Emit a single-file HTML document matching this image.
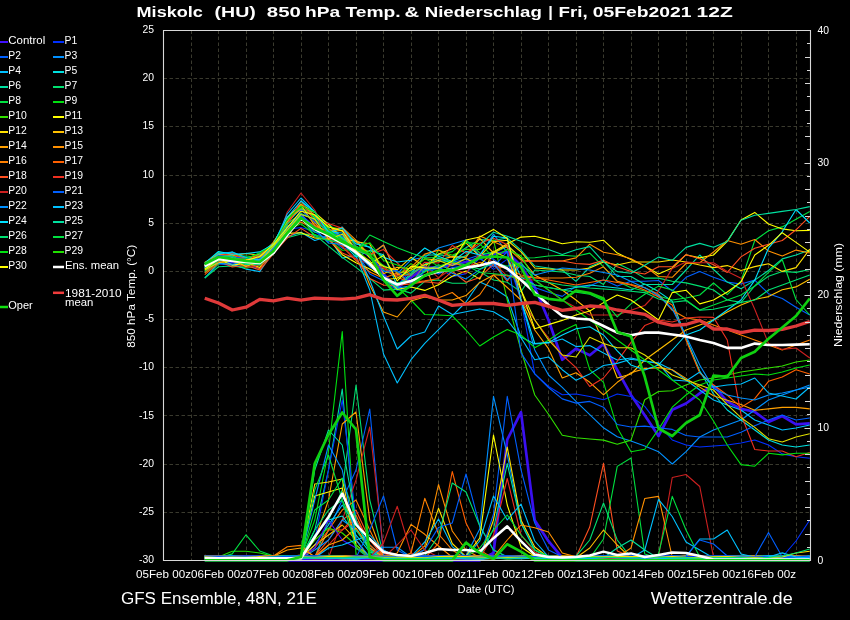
<!DOCTYPE html><html><head><meta charset="utf-8"><style>html,body{margin:0;padding:0;background:#000;width:850px;height:620px;overflow:hidden}svg{display:block;will-change:transform}text{font-family:"Liberation Sans",sans-serif;fill:#fff}</style></head><body>
<svg width="850" height="620" viewBox="0 0 850 620">
<rect width="850" height="620" fill="#000"/>
<path d="M191.5 30.5V560.5M218.5 30.5V560.5M246.5 30.5V560.5M273.5 30.5V560.5M301.5 30.5V560.5M328.5 30.5V560.5M356.5 30.5V560.5M383.5 30.5V560.5M411.5 30.5V560.5M438.5 30.5V560.5M466.5 30.5V560.5M493.5 30.5V560.5M521.5 30.5V560.5M548.5 30.5V560.5M576.5 30.5V560.5M603.5 30.5V560.5M631.5 30.5V560.5M658.5 30.5V560.5M686.5 30.5V560.5M713.5 30.5V560.5M741.5 30.5V560.5M768.5 30.5V560.5M796.5 30.5V560.5M163.5 78.5H810.5M163.5 126.5H810.5M163.5 175.5H810.5M163.5 223.5H810.5M163.5 271.5H810.5M163.5 319.5H810.5M163.5 367.5H810.5M163.5 415.5H810.5M163.5 464.5H810.5M163.5 512.5H810.5" stroke="#3a3a2e" stroke-width="1" stroke-dasharray="3.5 2.5" fill="none"/>
<polyline points="204.75,560.3 218.50,560.3 232.25,560.3 246.00,560.3 259.75,560.3 273.50,560.3 287.25,560.3 301.00,560.3 314.75,560.3 328.50,560.3 342.25,560.3 356.00,560.3 369.75,560.3 383.50,560.3 397.25,560.3 411.00,560.3 424.75,560.3 438.50,560.3 452.25,560.3 466.00,560.3 479.75,560.3 493.50,553.0 507.25,439.7 521.00,412.2 534.75,520.3 548.50,541.2 562.25,557.6 576.00,560.3 589.75,560.3 603.50,560.3 617.25,560.3 631.00,560.3 644.75,560.3 658.50,560.3 672.25,560.3 686.00,560.3 699.75,560.3 713.50,560.3 727.25,560.3 741.00,560.3 754.75,560.3 768.50,560.3 782.25,560.3 796.00,560.3 809.75,560.3" fill="none" stroke="#3a10f0" stroke-width="2.7" stroke-linejoin="round" stroke-linecap="butt"/>
<polyline points="204.75,267.0 218.50,260.0 232.25,262.0 246.00,262.0 259.75,261.0 273.50,250.0 287.25,230.0 301.00,216.0 314.75,227.0 328.50,233.0 342.25,240.0 356.00,247.0 369.75,256.0 383.50,274.2 397.25,288.0 411.00,277.4 424.75,268.0 438.50,267.0 452.25,265.0 466.00,262.0 479.75,258.0 493.50,254.0 507.25,252.0 521.00,266.0 534.75,287.2 548.50,320.0 562.25,359.8 576.00,348.6 589.75,355.3 603.50,344.0 617.25,370.0 631.00,394.9 644.75,415.2 658.50,436.0 672.25,409.8 686.00,403.5 699.75,393.3 713.50,385.7 727.25,401.6 741.00,408.9 754.75,411.8 768.50,422.0 782.25,416.1 796.00,424.3 809.75,423.4" fill="none" stroke="#3a10f0" stroke-width="2.7" stroke-linejoin="round" stroke-linecap="butt"/>
<g><polyline points="204.75,557.3 218.50,557.8 232.25,557.2 246.00,557.3 259.75,557.4 273.50,556.8 287.25,557.3 301.00,557.4 314.75,520.0 328.50,451.0 342.25,331.5 356.00,555.0 369.75,557.7 383.50,557.5 397.25,556.6 411.00,557.9 424.75,557.9 438.50,557.5 452.25,557.4 466.00,556.8 479.75,556.6 493.50,557.3 507.25,556.6 521.00,556.8 534.75,556.9 548.50,556.6 562.25,557.2 576.00,557.2 589.75,557.7 603.50,557.3 617.25,557.4 631.00,557.2 644.75,557.5 658.50,557.2 672.25,556.9 686.00,557.9 699.75,557.9 713.50,557.7 727.25,557.5 741.00,557.0 754.75,556.9 768.50,556.9 782.25,556.6 796.00,557.6 809.75,557.1" fill="none" stroke="#00e010" stroke-width="1.1" stroke-linejoin="round" stroke-linecap="butt"/><polyline points="204.75,558.0 218.50,558.8 232.25,558.6 246.00,557.4 259.75,557.7 273.50,558.7 287.25,558.1 301.00,558.8 314.75,558.0 328.50,520.0 342.25,490.0 356.00,385.0 369.75,500.0 383.50,555.0 397.25,557.9 411.00,558.8 424.75,558.5 438.50,557.6 452.25,557.8 466.00,557.6 479.75,557.5 493.50,558.6 507.25,557.7 521.00,558.2 534.75,558.1 548.50,557.7 562.25,558.5 576.00,557.6 589.75,558.3 603.50,557.6 617.25,558.0 631.00,557.7 644.75,557.8 658.50,558.8 672.25,558.6 686.00,557.9 699.75,558.7 713.50,557.7 727.25,558.0 741.00,558.6 754.75,558.3 768.50,557.6 782.25,558.8 796.00,557.7 809.75,557.8" fill="none" stroke="#00e070" stroke-width="1.1" stroke-linejoin="round" stroke-linecap="butt"/><polyline points="204.75,557.7 218.50,557.7 232.25,557.4 246.00,557.4 259.75,558.1 273.50,557.6 287.25,558.1 301.00,557.8 314.75,530.0 328.50,470.0 342.25,389.0 356.00,540.0 369.75,558.5 383.50,557.5 397.25,557.5 411.00,558.5 424.75,558.4 438.50,557.6 452.25,557.5 466.00,558.3 479.75,558.6 493.50,557.6 507.25,558.6 521.00,558.5 534.75,558.1 548.50,557.9 562.25,557.4 576.00,557.3 589.75,558.6 603.50,557.6 617.25,558.3 631.00,557.6 644.75,558.4 658.50,558.1 672.25,557.7 686.00,557.5 699.75,558.3 713.50,557.4 727.25,557.6 741.00,558.1 754.75,558.5 768.50,558.1 782.25,557.7 796.00,558.6 809.75,557.6" fill="none" stroke="#00e0a0" stroke-width="1.1" stroke-linejoin="round" stroke-linecap="butt"/><polyline points="204.75,555.9 218.50,556.2 232.25,555.6 246.00,555.8 259.75,556.1 273.50,556.3 287.25,555.7 301.00,556.0 314.75,540.0 328.50,470.0 342.25,400.0 356.00,520.0 369.75,550.0 383.50,555.7 397.25,555.6 411.00,555.6 424.75,556.8 438.50,556.5 452.25,556.9 466.00,555.6 479.75,556.4 493.50,556.2 507.25,556.6 521.00,556.0 534.75,556.9 548.50,555.6 562.25,556.3 576.00,556.6 589.75,556.8 603.50,556.6 617.25,556.5 631.00,556.6 644.75,556.8 658.50,556.0 672.25,556.5 686.00,556.8 699.75,556.8 713.50,556.1 727.25,556.6 741.00,556.7 754.75,556.3 768.50,556.4 782.25,556.1 796.00,556.4 809.75,556.4" fill="none" stroke="#0030ff" stroke-width="1.1" stroke-linejoin="round" stroke-linecap="butt"/><polyline points="204.75,556.6 218.50,557.1 232.25,556.9 246.00,556.7 259.75,556.2 273.50,556.7 287.25,556.5 301.00,556.3 314.75,556.9 328.50,530.0 342.25,500.0 356.00,470.0 369.75,409.0 383.50,555.0 397.25,556.0 411.00,556.7 424.75,556.4 438.50,556.5 452.25,557.0 466.00,556.0 479.75,555.7 493.50,556.1 507.25,556.6 521.00,556.0 534.75,555.9 548.50,557.0 562.25,556.6 576.00,556.3 589.75,556.9 603.50,556.1 617.25,556.6 631.00,556.0 644.75,556.3 658.50,556.8 672.25,557.0 686.00,556.9 699.75,556.2 713.50,556.5 727.25,556.1 741.00,555.9 754.75,556.4 768.50,556.9 782.25,556.9 796.00,556.7 809.75,557.0" fill="none" stroke="#0060ff" stroke-width="1.1" stroke-linejoin="round" stroke-linecap="butt"/><polyline points="204.75,556.4 218.50,556.8 232.25,556.5 246.00,556.4 259.75,556.7 273.50,557.0 287.25,556.8 301.00,556.6 314.75,540.0 328.50,500.0 342.25,424.0 356.00,412.0 369.75,520.0 383.50,557.0 397.25,556.2 411.00,557.1 424.75,556.9 438.50,556.6 452.25,557.2 466.00,556.2 479.75,556.3 493.50,556.8 507.25,556.2 521.00,557.3 534.75,556.5 548.50,556.3 562.25,556.2 576.00,557.0 589.75,556.8 603.50,557.0 617.25,557.1 631.00,557.3 644.75,557.5 658.50,557.1 672.25,556.4 686.00,556.8 699.75,556.4 713.50,556.2 727.25,556.8 741.00,557.1 754.75,556.4 768.50,556.5 782.25,556.6 796.00,557.1 809.75,556.9" fill="none" stroke="#ffa000" stroke-width="1.1" stroke-linejoin="round" stroke-linecap="butt"/><polyline points="204.75,558.0 218.50,557.5 232.25,558.0 246.00,558.2 259.75,557.0 273.50,558.2 287.25,557.9 301.00,557.1 314.75,557.5 328.50,557.8 342.25,520.0 356.00,480.0 369.75,427.0 383.50,550.0 397.25,558.0 411.00,558.2 424.75,557.6 438.50,557.8 452.25,557.2 466.00,557.9 479.75,558.1 493.50,557.8 507.25,557.9 521.00,557.2 534.75,558.2 548.50,558.3 562.25,558.3 576.00,557.7 589.75,558.0 603.50,557.4 617.25,558.2 631.00,558.1 644.75,557.4 658.50,557.0 672.25,557.5 686.00,557.7 699.75,558.0 713.50,557.6 727.25,557.0 741.00,558.0 754.75,557.0 768.50,558.0 782.25,557.2 796.00,557.4 809.75,558.0" fill="none" stroke="#cc2020" stroke-width="1.1" stroke-linejoin="round" stroke-linecap="butt"/><polyline points="204.75,556.0 218.50,556.5 232.25,556.8 246.00,557.0 259.75,556.8 273.50,557.1 287.25,556.5 301.00,556.0 314.75,484.0 328.50,482.0 342.25,479.0 356.00,545.0 369.75,557.0 383.50,556.7 397.25,556.6 411.00,557.0 424.75,556.6 438.50,556.3 452.25,556.4 466.00,557.0 479.75,557.1 493.50,556.1 507.25,557.0 521.00,557.2 534.75,556.6 548.50,556.6 562.25,556.1 576.00,556.6 589.75,556.5 603.50,556.7 617.25,555.9 631.00,557.2 644.75,556.5 658.50,556.4 672.25,556.9 686.00,556.6 699.75,556.5 713.50,556.8 727.25,555.9 741.00,556.6 754.75,556.4 768.50,557.2 782.25,557.1 796.00,556.2 809.75,556.5" fill="none" stroke="#ffe000" stroke-width="1.1" stroke-linejoin="round" stroke-linecap="butt"/><polyline points="204.75,556.4 218.50,556.9 232.25,557.1 246.00,556.5 259.75,556.2 273.50,556.1 287.25,556.7 301.00,555.0 314.75,496.0 328.50,492.0 342.25,488.0 356.00,548.0 369.75,556.1 383.50,556.8 397.25,556.2 411.00,556.3 424.75,556.7 438.50,555.9 452.25,556.8 466.00,556.0 479.75,556.5 493.50,556.1 507.25,556.1 521.00,556.5 534.75,556.4 548.50,556.3 562.25,556.4 576.00,556.5 589.75,556.0 603.50,556.1 617.25,556.7 631.00,556.7 644.75,556.5 658.50,557.0 672.25,556.6 686.00,557.0 699.75,556.1 713.50,556.8 727.25,556.9 741.00,557.1 754.75,556.2 768.50,556.2 782.25,557.1 796.00,556.1 809.75,557.2" fill="none" stroke="#ffff00" stroke-width="1.1" stroke-linejoin="round" stroke-linecap="butt"/><polyline points="204.75,557.7 218.50,557.9 232.25,558.6 246.00,557.9 259.75,557.7 273.50,558.7 287.25,558.1 301.00,558.6 314.75,510.0 328.50,500.0 342.25,478.0 356.00,520.0 369.75,550.0 383.50,558.5 397.25,558.8 411.00,558.9 424.75,557.7 438.50,558.2 452.25,558.6 466.00,558.2 479.75,558.5 493.50,557.8 507.25,557.6 521.00,557.7 534.75,557.6 548.50,558.3 562.25,558.3 576.00,558.3 589.75,557.7 603.50,557.8 617.25,557.8 631.00,558.7 644.75,558.9 658.50,558.8 672.25,557.7 686.00,557.6 699.75,558.9 713.50,558.2 727.25,558.6 741.00,558.0 754.75,558.2 768.50,558.3 782.25,558.1 796.00,558.4 809.75,557.6" fill="none" stroke="#00e040" stroke-width="1.1" stroke-linejoin="round" stroke-linecap="butt"/><polyline points="204.75,558.3 218.50,557.4 232.25,557.7 246.00,558.1 259.75,557.7 273.50,557.4 287.25,557.3 301.00,557.8 314.75,557.1 328.50,530.0 342.25,510.0 356.00,500.0 369.75,530.0 383.50,558.0 397.25,557.7 411.00,558.0 424.75,557.8 438.50,558.5 452.25,558.2 466.00,557.5 479.75,558.4 493.50,558.2 507.25,558.2 521.00,558.3 534.75,557.7 548.50,558.4 562.25,558.3 576.00,558.1 589.75,558.2 603.50,558.2 617.25,557.7 631.00,558.1 644.75,557.2 658.50,557.6 672.25,557.8 686.00,557.1 699.75,557.6 713.50,558.0 727.25,558.0 741.00,557.4 754.75,558.4 768.50,558.0 782.25,557.6 796.00,558.0 809.75,557.9" fill="none" stroke="#ff8000" stroke-width="1.1" stroke-linejoin="round" stroke-linecap="butt"/><polyline points="204.75,557.3 218.50,558.1 232.25,557.6 246.00,557.7 259.75,557.8 273.50,558.1 287.25,556.8 301.00,557.6 314.75,545.0 328.50,525.0 342.25,505.0 356.00,525.0 369.75,545.0 383.50,557.3 397.25,556.9 411.00,557.1 424.75,558.0 438.50,557.5 452.25,557.4 466.00,558.1 479.75,557.5 493.50,558.1 507.25,557.6 521.00,557.9 534.75,556.8 548.50,557.6 562.25,557.8 576.00,556.8 589.75,558.0 603.50,556.9 617.25,557.4 631.00,557.0 644.75,557.4 658.50,557.6 672.25,556.8 686.00,558.0 699.75,557.3 713.50,557.5 727.25,557.6 741.00,557.2 754.75,557.1 768.50,557.6 782.25,557.5 796.00,557.1 809.75,557.7" fill="none" stroke="#00c0ff" stroke-width="1.1" stroke-linejoin="round" stroke-linecap="butt"/><polyline points="204.75,556.2 218.50,556.5 232.25,556.2 246.00,556.4 259.75,557.2 273.50,556.7 287.25,557.4 301.00,557.2 314.75,556.3 328.50,540.0 342.25,520.0 356.00,510.0 369.75,540.0 383.50,556.8 397.25,556.8 411.00,557.5 424.75,556.5 438.50,556.9 452.25,557.5 466.00,557.2 479.75,556.8 493.50,557.6 507.25,557.3 521.00,557.0 534.75,556.3 548.50,557.1 562.25,556.8 576.00,556.5 589.75,556.3 603.50,556.9 617.25,556.4 631.00,556.8 644.75,557.1 658.50,556.8 672.25,556.5 686.00,557.0 699.75,556.8 713.50,557.3 727.25,556.9 741.00,557.6 754.75,557.5 768.50,557.2 782.25,556.5 796.00,556.3 809.75,557.4" fill="none" stroke="#ff5020" stroke-width="1.1" stroke-linejoin="round" stroke-linecap="butt"/><polyline points="204.75,558.2 218.50,557.8 232.25,557.7 246.00,558.3 259.75,558.1 273.50,558.1 287.25,558.2 301.00,558.4 314.75,550.0 328.50,540.0 342.25,520.0 356.00,530.0 369.75,548.0 383.50,557.4 397.25,557.4 411.00,557.7 424.75,557.9 438.50,558.2 452.25,557.4 466.00,558.1 479.75,557.4 493.50,557.4 507.25,558.3 521.00,558.1 534.75,558.2 548.50,557.8 562.25,558.0 576.00,557.6 589.75,557.8 603.50,558.3 617.25,558.5 631.00,557.4 644.75,557.5 658.50,558.4 672.25,558.2 686.00,558.4 699.75,557.6 713.50,557.9 727.25,557.7 741.00,558.4 754.75,557.8 768.50,558.2 782.25,558.7 796.00,557.8 809.75,558.1" fill="none" stroke="#0090ff" stroke-width="1.1" stroke-linejoin="round" stroke-linecap="butt"/><polyline points="204.75,558.5 218.50,557.8 232.25,557.7 246.00,557.4 259.75,558.4 273.50,557.3 287.25,557.3 301.00,558.0 314.75,535.0 328.50,520.0 342.25,516.0 356.00,535.0 369.75,552.0 383.50,557.5 397.25,558.1 411.00,557.3 424.75,557.6 438.50,558.2 452.25,558.2 466.00,557.6 479.75,557.4 493.50,557.7 507.25,558.2 521.00,557.7 534.75,557.4 548.50,558.2 562.25,558.0 576.00,558.5 589.75,558.5 603.50,558.5 617.25,557.8 631.00,558.3 644.75,557.6 658.50,557.7 672.25,557.8 686.00,558.5 699.75,558.5 713.50,557.6 727.25,557.7 741.00,557.7 754.75,557.7 768.50,557.8 782.25,557.8 796.00,557.5 809.75,558.0" fill="none" stroke="#00e0e0" stroke-width="1.1" stroke-linejoin="round" stroke-linecap="butt"/><polyline points="204.75,558.1 218.50,558.5 232.25,558.1 246.00,557.6 259.75,558.4 273.50,558.6 287.25,557.7 301.00,557.4 314.75,545.0 328.50,535.0 342.25,525.0 356.00,540.0 369.75,558.2 383.50,558.5 397.25,557.4 411.00,558.1 424.75,558.4 438.50,557.5 452.25,557.4 466.00,558.4 479.75,558.6 493.50,557.5 507.25,558.2 521.00,557.5 534.75,558.4 548.50,558.2 562.25,557.7 576.00,557.6 589.75,558.4 603.50,558.1 617.25,558.4 631.00,557.9 644.75,557.8 658.50,558.7 672.25,558.3 686.00,558.0 699.75,558.1 713.50,558.3 727.25,558.3 741.00,558.6 754.75,557.9 768.50,558.5 782.25,558.3 796.00,558.5 809.75,558.5" fill="none" stroke="#ffc000" stroke-width="1.1" stroke-linejoin="round" stroke-linecap="butt"/><polyline points="204.75,558.7 218.50,558.8 232.25,558.3 246.00,558.2 259.75,558.4 273.50,558.5 287.25,558.0 301.00,558.0 314.75,548.0 328.50,530.0 342.25,530.0 356.00,515.0 369.75,545.0 383.50,557.7 397.25,558.0 411.00,557.8 424.75,558.8 438.50,557.5 452.25,557.8 466.00,557.6 479.75,558.3 493.50,558.5 507.25,557.7 521.00,557.5 534.75,558.1 548.50,558.2 562.25,558.7 576.00,557.5 589.75,557.6 603.50,557.7 617.25,557.7 631.00,557.7 644.75,558.4 658.50,558.3 672.25,557.7 686.00,557.7 699.75,557.8 713.50,557.7 727.25,558.5 741.00,557.9 754.75,558.2 768.50,558.6 782.25,558.1 796.00,557.8 809.75,558.7" fill="none" stroke="#ff6000" stroke-width="1.1" stroke-linejoin="round" stroke-linecap="butt"/><polyline points="204.75,558.1 218.50,558.4 232.25,558.9 246.00,558.3 259.75,557.9 273.50,557.7 287.25,558.9 301.00,558.7 314.75,530.0 328.50,510.0 342.25,500.0 356.00,530.0 369.75,550.0 383.50,558.5 397.25,557.9 411.00,557.6 424.75,558.3 438.50,558.1 452.25,558.7 466.00,558.6 479.75,558.5 493.50,557.8 507.25,557.8 521.00,558.1 534.75,558.0 548.50,558.8 562.25,558.3 576.00,558.5 589.75,559.0 603.50,558.0 617.25,558.4 631.00,557.8 644.75,558.7 658.50,557.6 672.25,558.8 686.00,558.8 699.75,558.8 713.50,557.7 727.25,558.0 741.00,558.6 754.75,557.7 768.50,558.3 782.25,558.3 796.00,558.9 809.75,558.4" fill="none" stroke="#00e070" stroke-width="1.1" stroke-linejoin="round" stroke-linecap="butt"/><polyline points="204.75,557.9 218.50,558.6 232.25,558.1 246.00,558.8 259.75,557.6 273.50,558.6 287.25,557.8 301.00,558.2 314.75,540.0 328.50,528.0 342.25,533.0 356.00,545.0 369.75,557.9 383.50,557.6 397.25,557.9 411.00,558.1 424.75,558.5 438.50,558.0 452.25,558.4 466.00,557.6 479.75,558.0 493.50,558.1 507.25,558.8 521.00,558.6 534.75,558.4 548.50,557.5 562.25,558.0 576.00,558.5 589.75,557.8 603.50,558.3 617.25,558.1 631.00,557.5 644.75,558.9 658.50,558.6 672.25,557.8 686.00,558.3 699.75,557.9 713.50,558.0 727.25,558.2 741.00,557.9 754.75,557.9 768.50,558.0 782.25,558.4 796.00,557.8 809.75,557.8" fill="none" stroke="#30e000" stroke-width="1.1" stroke-linejoin="round" stroke-linecap="butt"/><polyline points="204.75,557.6 218.50,558.5 232.25,558.0 246.00,558.2 259.75,557.6 273.50,558.3 287.25,557.3 301.00,557.4 314.75,548.0 328.50,520.0 342.25,540.0 356.00,548.0 369.75,557.7 383.50,558.4 397.25,558.0 411.00,557.3 424.75,557.5 438.50,557.4 452.25,557.4 466.00,557.8 479.75,557.3 493.50,558.5 507.25,557.8 521.00,557.9 534.75,558.1 548.50,558.3 562.25,558.3 576.00,557.7 589.75,557.6 603.50,557.8 617.25,557.2 631.00,557.7 644.75,558.2 658.50,558.6 672.25,558.3 686.00,558.1 699.75,558.0 713.50,557.2 727.25,557.6 741.00,557.7 754.75,558.1 768.50,557.3 782.25,557.7 796.00,557.9 809.75,558.3" fill="none" stroke="#4010ff" stroke-width="1.1" stroke-linejoin="round" stroke-linecap="butt"/><polyline points="204.75,558.3 218.50,557.6 232.25,558.5 246.00,558.7 259.75,558.2 273.50,557.9 287.25,558.1 301.00,557.6 314.75,558.4 328.50,545.0 342.25,530.0 356.00,520.0 369.75,540.0 383.50,553.0 397.25,558.7 411.00,558.3 424.75,557.7 438.50,557.5 452.25,557.7 466.00,558.2 479.75,558.4 493.50,557.9 507.25,558.7 521.00,557.9 534.75,558.0 548.50,557.6 562.25,558.8 576.00,557.6 589.75,558.7 603.50,558.2 617.25,558.2 631.00,558.2 644.75,557.8 658.50,558.7 672.25,558.8 686.00,558.5 699.75,558.2 713.50,557.6 727.25,558.6 741.00,557.8 754.75,558.7 768.50,557.7 782.25,558.2 796.00,558.6 809.75,557.7" fill="none" stroke="#ee3020" stroke-width="1.1" stroke-linejoin="round" stroke-linecap="butt"/><polyline points="204.75,556.9 218.50,556.8 232.25,557.0 246.00,558.1 259.75,558.1 273.50,557.7 287.25,557.2 301.00,557.7 314.75,557.8 328.50,548.0 342.25,545.0 356.00,540.0 369.75,535.0 383.50,550.0 397.25,557.4 411.00,557.0 424.75,557.3 438.50,557.6 452.25,557.0 466.00,557.5 479.75,557.1 493.50,557.6 507.25,557.2 521.00,557.7 534.75,556.8 548.50,557.7 562.25,557.0 576.00,558.1 589.75,557.6 603.50,557.4 617.25,557.3 631.00,557.6 644.75,557.7 658.50,557.8 672.25,557.8 686.00,557.4 699.75,558.2 713.50,557.9 727.25,558.0 741.00,557.3 754.75,557.4 768.50,557.6 782.25,558.0 796.00,557.5 809.75,557.5" fill="none" stroke="#00c0ff" stroke-width="1.1" stroke-linejoin="round" stroke-linecap="butt"/><polyline points="204.75,557.8 218.50,556.9 232.25,556.6 246.00,557.5 259.75,557.8 273.50,557.5 287.25,557.3 301.00,557.5 314.75,556.9 328.50,545.0 342.25,540.0 356.00,528.0 369.75,548.0 383.50,557.2 397.25,557.0 411.00,556.6 424.75,557.5 438.50,557.2 452.25,556.8 466.00,556.9 479.75,557.0 493.50,556.8 507.25,556.6 521.00,557.8 534.75,557.8 548.50,557.4 562.25,557.7 576.00,557.1 589.75,557.6 603.50,556.8 617.25,557.5 631.00,557.3 644.75,557.8 658.50,556.6 672.25,557.6 686.00,556.7 699.75,557.2 713.50,557.8 727.25,556.5 741.00,556.8 754.75,556.9 768.50,556.9 782.25,556.6 796.00,557.7 809.75,557.6" fill="none" stroke="#ffa000" stroke-width="1.1" stroke-linejoin="round" stroke-linecap="butt"/><polyline points="204.75,556.9 218.50,557.2 232.25,556.5 246.00,556.5 259.75,557.7 273.50,556.8 287.25,557.1 301.00,557.7 314.75,470.0 328.50,430.0 342.25,445.0 356.00,520.0 369.75,552.0 383.50,557.7 397.25,556.7 411.00,557.6 424.75,556.9 438.50,557.1 452.25,556.7 466.00,557.6 479.75,557.8 493.50,556.7 507.25,557.3 521.00,556.7 534.75,557.6 548.50,556.5 562.25,556.6 576.00,557.4 589.75,556.9 603.50,557.7 617.25,557.6 631.00,557.4 644.75,556.6 658.50,557.4 672.25,557.7 686.00,557.0 699.75,556.5 713.50,556.7 727.25,556.8 741.00,557.4 754.75,556.7 768.50,556.7 782.25,556.7 796.00,557.3 809.75,557.5" fill="none" stroke="#00e0a0" stroke-width="1.1" stroke-linejoin="round" stroke-linecap="butt"/><polyline points="204.75,557.3 218.50,557.6 232.25,557.2 246.00,556.7 259.75,556.8 273.50,557.7 287.25,557.3 301.00,556.7 314.75,500.0 328.50,445.0 342.25,470.0 356.00,540.0 369.75,557.1 383.50,557.1 397.25,556.4 411.00,557.2 424.75,556.8 438.50,556.7 452.25,557.5 466.00,556.5 479.75,556.8 493.50,557.4 507.25,556.7 521.00,556.7 534.75,557.1 548.50,556.6 562.25,557.6 576.00,557.7 589.75,556.4 603.50,557.0 617.25,557.4 631.00,556.9 644.75,557.7 658.50,557.1 672.25,556.6 686.00,557.1 699.75,557.3 713.50,556.9 727.25,557.3 741.00,557.5 754.75,557.1 768.50,557.1 782.25,557.5 796.00,557.3 809.75,557.1" fill="none" stroke="#0090ff" stroke-width="1.1" stroke-linejoin="round" stroke-linecap="butt"/><polyline points="204.75,557.9 218.50,558.8 232.25,557.9 246.00,558.5 259.75,558.0 273.50,558.3 287.25,558.8 301.00,558.8 314.75,490.0 328.50,455.0 342.25,500.0 356.00,548.0 369.75,558.5 383.50,558.4 397.25,557.7 411.00,558.5 424.75,558.7 438.50,558.5 452.25,558.9 466.00,557.9 479.75,557.9 493.50,557.7 507.25,558.4 521.00,558.3 534.75,558.3 548.50,558.1 562.25,558.8 576.00,557.8 589.75,559.0 603.50,558.5 617.25,558.4 631.00,558.8 644.75,558.0 658.50,557.9 672.25,558.1 686.00,557.7 699.75,558.1 713.50,558.6 727.25,558.4 741.00,558.1 754.75,558.5 768.50,557.8 782.25,558.8 796.00,557.9 809.75,558.0" fill="none" stroke="#00e040" stroke-width="1.1" stroke-linejoin="round" stroke-linecap="butt"/><polyline points="204.75,556.8 218.50,557.0 232.25,551.3 246.00,551.3 259.75,553.0 273.50,556.4 287.25,556.2 301.00,557.2 314.75,555.9 328.50,556.6 342.25,556.9 356.00,557.2 369.75,556.1 383.50,556.5 397.25,556.9 411.00,555.9 424.75,556.2 438.50,557.1 452.25,556.1 466.00,556.4 479.75,556.3 493.50,556.5 507.25,556.0 521.00,555.9 534.75,557.3 548.50,556.9 562.25,556.9 576.00,556.2 589.75,556.2 603.50,556.6 617.25,556.2 631.00,556.5 644.75,557.2 658.50,556.4 672.25,556.3 686.00,557.2 699.75,556.7 713.50,555.9 727.25,556.4 741.00,556.8 754.75,555.9 768.50,556.3 782.25,556.8 796.00,557.1 809.75,556.7" fill="none" stroke="#20e000" stroke-width="1.1" stroke-linejoin="round" stroke-linecap="butt"/><polyline points="204.75,558.2 218.50,558.1 232.25,553.9 246.00,534.8 259.75,551.0 273.50,556.0 287.25,558.0 301.00,557.8 314.75,558.3 328.50,557.8 342.25,557.8 356.00,557.8 369.75,558.2 383.50,558.0 397.25,558.2 411.00,558.9 424.75,558.5 438.50,558.7 452.25,557.8 466.00,558.1 479.75,557.6 493.50,558.5 507.25,558.0 521.00,557.9 534.75,557.6 548.50,557.8 562.25,557.9 576.00,558.1 589.75,558.8 603.50,558.5 617.25,557.9 631.00,558.0 644.75,557.8 658.50,558.8 672.25,558.0 686.00,558.6 699.75,558.6 713.50,558.8 727.25,557.6 741.00,558.0 754.75,558.1 768.50,557.7 782.25,558.8 796.00,558.0 809.75,558.6" fill="none" stroke="#00e040" stroke-width="1.1" stroke-linejoin="round" stroke-linecap="butt"/><polyline points="204.75,555.3 218.50,557.2 232.25,557.0 246.00,556.8 259.75,556.9 273.50,556.0 287.25,546.8 301.00,545.4 314.75,557.3 328.50,557.5 342.25,556.9 356.00,557.7 369.75,557.1 383.50,557.7 397.25,557.6 411.00,556.9 424.75,557.0 438.50,557.1 452.25,557.7 466.00,557.3 479.75,557.2 493.50,557.9 507.25,557.0 521.00,557.1 534.75,557.2 548.50,557.0 562.25,556.8 576.00,556.7 589.75,557.6 603.50,557.5 617.25,557.8 631.00,558.1 644.75,557.1 658.50,557.6 672.25,558.0 686.00,557.0 699.75,557.7 713.50,557.6 727.25,558.0 741.00,557.9 754.75,557.0 768.50,557.6 782.25,556.8 796.00,557.3 809.75,557.2" fill="none" stroke="#ff8000" stroke-width="1.1" stroke-linejoin="round" stroke-linecap="butt"/><polyline points="204.75,556.2 218.50,556.1 232.25,556.3 246.00,556.0 259.75,555.9 273.50,556.2 287.25,550.0 301.00,548.0 314.75,556.6 328.50,556.0 342.25,555.8 356.00,556.1 369.75,556.2 383.50,555.8 397.25,556.5 411.00,556.6 424.75,556.4 438.50,556.6 452.25,555.7 466.00,556.2 479.75,556.1 493.50,555.7 507.25,556.2 521.00,555.7 534.75,556.3 548.50,556.5 562.25,556.3 576.00,556.1 589.75,556.0 603.50,555.7 617.25,556.1 631.00,556.9 644.75,556.4 658.50,556.0 672.25,556.6 686.00,555.9 699.75,556.3 713.50,556.5 727.25,557.0 741.00,556.1 754.75,556.4 768.50,557.0 782.25,556.7 796.00,556.5 809.75,556.5" fill="none" stroke="#ffa000" stroke-width="1.1" stroke-linejoin="round" stroke-linecap="butt"/><polyline points="204.75,557.0 218.50,556.8 232.25,557.6 246.00,557.7 259.75,557.0 273.50,557.7 287.25,556.5 301.00,556.6 314.75,557.2 328.50,556.9 342.25,556.9 356.00,557.8 369.75,530.0 383.50,496.0 397.25,550.0 411.00,557.4 424.75,556.8 438.50,556.4 452.25,557.2 466.00,557.0 479.75,556.8 493.50,557.1 507.25,557.4 521.00,557.2 534.75,557.3 548.50,557.2 562.25,557.6 576.00,557.8 589.75,556.9 603.50,556.9 617.25,557.7 631.00,556.9 644.75,557.4 658.50,557.4 672.25,557.4 686.00,557.8 699.75,557.6 713.50,556.7 727.25,557.3 741.00,557.1 754.75,557.2 768.50,557.0 782.25,556.8 796.00,557.5 809.75,557.2" fill="none" stroke="#0060ff" stroke-width="1.1" stroke-linejoin="round" stroke-linecap="butt"/><polyline points="204.75,556.4 218.50,556.5 232.25,556.3 246.00,556.8 259.75,556.2 273.50,556.1 287.25,556.1 301.00,556.2 314.75,557.0 328.50,556.2 342.25,556.7 356.00,557.1 369.75,556.7 383.50,547.3 397.25,547.3 411.00,557.3 424.75,556.1 438.50,556.4 452.25,556.8 466.00,557.2 479.75,556.6 493.50,557.0 507.25,556.4 521.00,557.0 534.75,556.5 548.50,556.5 562.25,557.1 576.00,557.2 589.75,557.2 603.50,556.8 617.25,556.6 631.00,557.0 644.75,556.9 658.50,557.2 672.25,557.2 686.00,556.2 699.75,556.6 713.50,557.0 727.25,556.4 741.00,556.3 754.75,556.1 768.50,556.9 782.25,557.4 796.00,557.4 809.75,556.2" fill="none" stroke="#0090ff" stroke-width="1.1" stroke-linejoin="round" stroke-linecap="butt"/><polyline points="204.75,557.7 218.50,558.0 232.25,557.6 246.00,558.4 259.75,558.5 273.50,557.1 287.25,558.1 301.00,557.2 314.75,557.1 328.50,557.5 342.25,558.1 356.00,558.5 369.75,557.2 383.50,543.0 397.25,506.3 411.00,553.0 424.75,557.8 438.50,557.6 452.25,557.5 466.00,558.2 479.75,558.3 493.50,557.5 507.25,557.6 521.00,557.9 534.75,558.2 548.50,558.5 562.25,557.6 576.00,558.1 589.75,557.8 603.50,558.2 617.25,557.3 631.00,557.3 644.75,557.2 658.50,558.4 672.25,557.4 686.00,557.8 699.75,557.2 713.50,557.5 727.25,557.1 741.00,557.9 754.75,557.3 768.50,558.0 782.25,557.5 796.00,557.4 809.75,557.8" fill="none" stroke="#cc2020" stroke-width="1.1" stroke-linejoin="round" stroke-linecap="butt"/><polyline points="204.75,556.7 218.50,556.4 232.25,556.4 246.00,557.6 259.75,556.8 273.50,556.5 287.25,556.6 301.00,557.0 314.75,557.7 328.50,556.6 342.25,557.6 356.00,557.0 369.75,556.9 383.50,557.5 397.25,553.0 411.00,524.4 424.75,534.3 438.50,546.0 452.25,557.2 466.00,556.7 479.75,557.7 493.50,557.6 507.25,557.7 521.00,557.0 534.75,557.5 548.50,557.4 562.25,556.6 576.00,556.4 589.75,556.6 603.50,556.5 617.25,556.4 631.00,556.8 644.75,557.4 658.50,556.8 672.25,557.1 686.00,556.4 699.75,556.6 713.50,557.7 727.25,556.4 741.00,557.1 754.75,557.5 768.50,557.5 782.25,557.4 796.00,556.9 809.75,557.5" fill="none" stroke="#ff9000" stroke-width="1.1" stroke-linejoin="round" stroke-linecap="butt"/><polyline points="204.75,558.5 218.50,558.8 232.25,557.5 246.00,558.7 259.75,558.0 273.50,558.4 287.25,557.8 301.00,558.7 314.75,557.4 328.50,558.2 342.25,557.7 356.00,557.9 369.75,557.9 383.50,558.3 397.25,558.5 411.00,553.0 424.75,498.3 438.50,534.0 452.25,550.0 466.00,558.7 479.75,557.9 493.50,557.5 507.25,557.9 521.00,558.4 534.75,557.7 548.50,558.4 562.25,558.2 576.00,558.4 589.75,557.7 603.50,557.6 617.25,557.6 631.00,557.9 644.75,558.0 658.50,557.4 672.25,558.1 686.00,558.0 699.75,557.9 713.50,558.2 727.25,558.7 741.00,557.7 754.75,558.6 768.50,557.9 782.25,558.5 796.00,557.6 809.75,558.8" fill="none" stroke="#ff8000" stroke-width="1.1" stroke-linejoin="round" stroke-linecap="butt"/><polyline points="204.75,557.8 218.50,556.8 232.25,557.1 246.00,557.5 259.75,556.7 273.50,556.9 287.25,557.4 301.00,557.8 314.75,556.9 328.50,556.7 342.25,557.0 356.00,557.9 369.75,556.7 383.50,557.4 397.25,557.0 411.00,557.4 424.75,546.0 438.50,484.5 452.25,531.0 466.00,550.0 479.75,557.4 493.50,557.2 507.25,557.3 521.00,556.6 534.75,557.7 548.50,557.5 562.25,557.1 576.00,557.4 589.75,557.1 603.50,557.0 617.25,556.8 631.00,557.3 644.75,557.3 658.50,557.2 672.25,556.5 686.00,557.4 699.75,557.1 713.50,557.3 727.25,557.3 741.00,557.8 754.75,556.7 768.50,557.1 782.25,557.9 796.00,557.5 809.75,556.9" fill="none" stroke="#ff9000" stroke-width="1.1" stroke-linejoin="round" stroke-linecap="butt"/><polyline points="204.75,558.6 218.50,557.8 232.25,558.4 246.00,557.4 259.75,558.6 273.50,557.9 287.25,557.5 301.00,558.4 314.75,558.1 328.50,558.5 342.25,558.4 356.00,558.3 369.75,557.9 383.50,558.6 397.25,557.3 411.00,558.4 424.75,558.2 438.50,543.5 452.25,471.5 466.00,523.0 479.75,550.0 493.50,558.4 507.25,557.5 521.00,557.6 534.75,558.1 548.50,557.3 562.25,558.0 576.00,558.3 589.75,557.9 603.50,557.5 617.25,558.3 631.00,558.4 644.75,558.3 658.50,558.0 672.25,558.5 686.00,558.3 699.75,557.4 713.50,557.7 727.25,557.3 741.00,557.2 754.75,557.7 768.50,558.4 782.25,558.4 796.00,557.4 809.75,557.4" fill="none" stroke="#ff6000" stroke-width="1.1" stroke-linejoin="round" stroke-linecap="butt"/><polyline points="204.75,557.6 218.50,557.3 232.25,557.7 246.00,556.5 259.75,557.8 273.50,556.7 287.25,557.3 301.00,557.6 314.75,557.4 328.50,556.7 342.25,557.3 356.00,557.0 369.75,556.4 383.50,556.9 397.25,556.8 411.00,557.3 424.75,549.6 438.50,508.3 452.25,543.5 466.00,556.6 479.75,556.6 493.50,557.4 507.25,557.0 521.00,556.6 534.75,556.6 548.50,557.7 562.25,557.2 576.00,556.9 589.75,556.7 603.50,557.8 617.25,557.4 631.00,557.4 644.75,556.9 658.50,556.8 672.25,557.0 686.00,556.6 699.75,557.3 713.50,557.0 727.25,557.5 741.00,557.0 754.75,557.0 768.50,557.1 782.25,557.7 796.00,556.9 809.75,557.4" fill="none" stroke="#ffe000" stroke-width="1.1" stroke-linejoin="round" stroke-linecap="butt"/><polyline points="204.75,556.9 218.50,556.4 232.25,557.3 246.00,556.4 259.75,557.2 273.50,557.0 287.25,556.7 301.00,557.3 314.75,556.6 328.50,557.1 342.25,556.9 356.00,556.7 369.75,556.1 383.50,556.6 397.25,556.4 411.00,556.7 424.75,542.0 438.50,519.0 452.25,546.6 466.00,557.0 479.75,556.4 493.50,556.6 507.25,556.2 521.00,557.3 534.75,556.4 548.50,556.6 562.25,556.5 576.00,557.2 589.75,557.2 603.50,556.9 617.25,556.8 631.00,556.2 644.75,557.3 658.50,556.2 672.25,556.5 686.00,556.6 699.75,557.1 713.50,557.0 727.25,556.5 741.00,557.3 754.75,557.4 768.50,556.1 782.25,556.9 796.00,556.7 809.75,556.5" fill="none" stroke="#00c0ff" stroke-width="1.1" stroke-linejoin="round" stroke-linecap="butt"/><polyline points="204.75,557.0 218.50,557.5 232.25,557.4 246.00,557.9 259.75,557.9 273.50,558.0 287.25,557.1 301.00,557.7 314.75,557.5 328.50,557.6 342.25,558.0 356.00,556.7 369.75,557.2 383.50,557.1 397.25,557.5 411.00,556.9 424.75,549.6 438.50,527.4 452.25,523.0 466.00,474.0 479.75,526.0 493.50,550.0 507.25,556.7 521.00,556.8 534.75,557.5 548.50,557.4 562.25,557.6 576.00,556.9 589.75,557.7 603.50,557.6 617.25,557.7 631.00,556.7 644.75,557.2 658.50,556.6 672.25,557.8 686.00,557.9 699.75,557.8 713.50,556.6 727.25,557.1 741.00,557.3 754.75,557.3 768.50,556.7 782.25,557.7 796.00,557.0 809.75,557.3" fill="none" stroke="#0060ff" stroke-width="1.1" stroke-linejoin="round" stroke-linecap="butt"/><polyline points="204.75,556.6 218.50,556.0 232.25,555.9 246.00,556.5 259.75,556.2 273.50,556.9 287.25,556.1 301.00,556.4 314.75,555.9 328.50,556.1 342.25,556.4 356.00,556.6 369.75,556.4 383.50,557.0 397.25,555.9 411.00,557.0 424.75,556.0 438.50,536.0 452.25,483.0 466.00,492.0 479.75,526.0 493.50,550.0 507.25,557.1 521.00,556.4 534.75,555.8 548.50,556.0 562.25,556.9 576.00,556.8 589.75,556.8 603.50,556.0 617.25,556.5 631.00,555.8 644.75,555.9 658.50,556.2 672.25,557.1 686.00,556.7 699.75,557.0 713.50,555.9 727.25,556.4 741.00,555.9 754.75,556.2 768.50,555.9 782.25,557.1 796.00,556.2 809.75,556.5" fill="none" stroke="#00e070" stroke-width="1.1" stroke-linejoin="round" stroke-linecap="butt"/><polyline points="204.75,558.2 218.50,558.3 232.25,557.8 246.00,557.7 259.75,558.3 273.50,557.6 287.25,557.4 301.00,558.0 314.75,557.4 328.50,557.5 342.25,557.6 356.00,557.7 369.75,557.5 383.50,557.6 397.25,545.0 411.00,530.0 424.75,550.0 438.50,557.1 452.25,557.7 466.00,557.8 479.75,557.6 493.50,557.3 507.25,557.1 521.00,557.5 534.75,557.4 548.50,557.7 562.25,557.3 576.00,558.1 589.75,557.7 603.50,557.0 617.25,557.6 631.00,558.4 644.75,557.0 658.50,557.8 672.25,558.3 686.00,557.5 699.75,557.8 713.50,557.5 727.25,557.4 741.00,557.9 754.75,557.8 768.50,557.4 782.25,557.7 796.00,557.7 809.75,558.1" fill="none" stroke="#cc2020" stroke-width="1.1" stroke-linejoin="round" stroke-linecap="butt"/><polyline points="204.75,555.8 218.50,556.0 232.25,556.0 246.00,556.7 259.75,556.2 273.50,556.8 287.25,556.2 301.00,556.0 314.75,556.6 328.50,555.7 342.25,557.0 356.00,556.8 369.75,556.1 383.50,556.1 397.25,556.8 411.00,556.7 424.75,556.5 438.50,555.7 452.25,556.7 466.00,555.7 479.75,529.0 493.50,396.4 507.25,454.6 521.00,523.0 534.75,550.0 548.50,556.9 562.25,556.7 576.00,556.4 589.75,555.6 603.50,556.7 617.25,556.2 631.00,556.6 644.75,557.0 658.50,556.9 672.25,555.7 686.00,556.7 699.75,556.2 713.50,556.7 727.25,556.2 741.00,556.2 754.75,556.2 768.50,555.8 782.25,556.1 796.00,556.7 809.75,555.7" fill="none" stroke="#0090ff" stroke-width="1.1" stroke-linejoin="round" stroke-linecap="butt"/><polyline points="204.75,556.9 218.50,556.7 232.25,556.5 246.00,555.9 259.75,555.9 273.50,556.2 287.25,557.1 301.00,556.6 314.75,557.1 328.50,556.1 342.25,556.3 356.00,556.5 369.75,556.9 383.50,555.9 397.25,557.0 411.00,556.4 424.75,555.8 438.50,556.4 452.25,556.3 466.00,556.7 479.75,557.1 493.50,514.0 507.25,396.4 521.00,469.6 534.75,523.0 548.50,550.0 562.25,556.8 576.00,556.0 589.75,556.6 603.50,556.0 617.25,556.3 631.00,556.0 644.75,556.3 658.50,556.6 672.25,556.5 686.00,556.3 699.75,556.6 713.50,556.9 727.25,556.3 741.00,556.6 754.75,556.4 768.50,557.1 782.25,556.2 796.00,556.7 809.75,556.1" fill="none" stroke="#0060ff" stroke-width="1.1" stroke-linejoin="round" stroke-linecap="butt"/><polyline points="204.75,557.1 218.50,556.9 232.25,556.5 246.00,556.2 259.75,557.3 273.50,556.6 287.25,557.1 301.00,556.7 314.75,557.0 328.50,556.9 342.25,557.5 356.00,557.4 369.75,556.7 383.50,556.8 397.25,556.4 411.00,557.2 424.75,556.2 438.50,556.5 452.25,557.3 466.00,556.2 479.75,538.0 493.50,435.0 507.25,505.0 521.00,547.0 534.75,556.3 548.50,557.4 562.25,557.2 576.00,557.2 589.75,556.2 603.50,557.2 617.25,556.4 631.00,556.4 644.75,556.8 658.50,557.0 672.25,556.3 686.00,557.2 699.75,556.9 713.50,557.4 727.25,557.4 741.00,557.1 754.75,556.6 768.50,557.4 782.25,557.1 796.00,556.5 809.75,557.3" fill="none" stroke="#ffff00" stroke-width="1.1" stroke-linejoin="round" stroke-linecap="butt"/><polyline points="204.75,557.5 218.50,557.5 232.25,557.2 246.00,557.9 259.75,557.5 273.50,557.6 287.25,557.5 301.00,557.4 314.75,557.9 328.50,557.6 342.25,557.6 356.00,557.6 369.75,557.9 383.50,558.4 397.25,557.4 411.00,558.4 424.75,558.4 438.50,558.0 452.25,557.9 466.00,558.2 479.75,557.9 493.50,520.0 507.25,447.0 521.00,520.0 534.75,547.0 548.50,557.2 562.25,558.5 576.00,557.7 589.75,558.3 603.50,557.5 617.25,557.8 631.00,557.7 644.75,558.2 658.50,558.5 672.25,557.9 686.00,558.0 699.75,557.7 713.50,557.5 727.25,558.5 741.00,557.3 754.75,558.5 768.50,558.1 782.25,557.3 796.00,558.4 809.75,557.3" fill="none" stroke="#ffe000" stroke-width="1.1" stroke-linejoin="round" stroke-linecap="butt"/><polyline points="204.75,557.0 218.50,558.2 232.25,557.2 246.00,558.0 259.75,556.9 273.50,557.7 287.25,556.9 301.00,556.8 314.75,557.6 328.50,558.2 342.25,557.8 356.00,558.0 369.75,557.9 383.50,557.5 397.25,556.9 411.00,557.5 424.75,557.1 438.50,557.5 452.25,557.3 466.00,557.5 479.75,557.1 493.50,529.0 507.25,463.6 521.00,523.0 534.75,550.0 548.50,557.5 562.25,557.6 576.00,558.2 589.75,557.6 603.50,557.0 617.25,557.2 631.00,557.3 644.75,557.8 658.50,558.1 672.25,558.2 686.00,558.1 699.75,558.1 713.50,558.0 727.25,558.1 741.00,556.8 754.75,557.5 768.50,557.6 782.25,557.8 796.00,557.7 809.75,557.7" fill="none" stroke="#00e0a0" stroke-width="1.1" stroke-linejoin="round" stroke-linecap="butt"/><polyline points="204.75,557.8 218.50,558.4 232.25,559.0 246.00,557.7 259.75,557.8 273.50,558.9 287.25,559.0 301.00,557.7 314.75,557.7 328.50,558.8 342.25,558.6 356.00,558.4 369.75,558.5 383.50,558.7 397.25,558.8 411.00,557.6 424.75,557.7 438.50,558.8 452.25,559.0 466.00,558.8 479.75,558.2 493.50,535.0 507.25,478.5 521.00,535.0 534.75,552.0 548.50,558.0 562.25,558.5 576.00,558.4 589.75,558.1 603.50,558.6 617.25,558.3 631.00,558.0 644.75,558.9 658.50,557.9 672.25,557.9 686.00,558.0 699.75,558.3 713.50,558.7 727.25,558.1 741.00,558.0 754.75,558.6 768.50,558.0 782.25,558.4 796.00,558.0 809.75,558.9" fill="none" stroke="#ee3020" stroke-width="1.1" stroke-linejoin="round" stroke-linecap="butt"/><polyline points="204.75,556.2 218.50,556.3 232.25,556.4 246.00,556.9 259.75,556.9 273.50,557.0 287.25,556.7 301.00,556.0 314.75,557.0 328.50,556.3 342.25,556.2 356.00,556.5 369.75,557.3 383.50,556.4 397.25,556.4 411.00,557.2 424.75,557.3 438.50,556.5 452.25,556.1 466.00,557.0 479.75,541.0 493.50,496.0 507.25,520.0 521.00,504.0 534.75,541.0 548.50,556.8 562.25,557.0 576.00,556.6 589.75,557.1 603.50,555.9 617.25,556.6 631.00,556.5 644.75,556.0 658.50,557.2 672.25,556.1 686.00,556.2 699.75,557.2 713.50,557.3 727.25,557.2 741.00,556.4 754.75,557.2 768.50,556.1 782.25,556.9 796.00,557.2 809.75,556.2" fill="none" stroke="#00c0ff" stroke-width="1.1" stroke-linejoin="round" stroke-linecap="butt"/><polyline points="204.75,556.8 218.50,557.0 232.25,556.8 246.00,557.1 259.75,556.4 273.50,556.3 287.25,556.0 301.00,556.2 314.75,557.1 328.50,555.9 342.25,556.1 356.00,556.3 369.75,555.9 383.50,556.2 397.25,556.1 411.00,556.0 424.75,556.5 438.50,556.6 452.25,556.6 466.00,556.9 479.75,548.0 493.50,530.0 507.25,515.0 521.00,535.0 534.75,550.0 548.50,556.2 562.25,556.9 576.00,557.1 589.75,556.5 603.50,556.0 617.25,556.3 631.00,556.6 644.75,556.2 658.50,556.9 672.25,557.2 686.00,556.5 699.75,556.7 713.50,557.0 727.25,556.5 741.00,556.1 754.75,557.1 768.50,557.2 782.25,555.8 796.00,556.9 809.75,556.4" fill="none" stroke="#00e040" stroke-width="1.1" stroke-linejoin="round" stroke-linecap="butt"/><polyline points="204.75,555.8 218.50,555.9 232.25,556.7 246.00,555.9 259.75,555.6 273.50,555.9 287.25,556.7 301.00,556.3 314.75,556.5 328.50,556.3 342.25,555.9 356.00,555.6 369.75,556.0 383.50,555.7 397.25,556.0 411.00,556.5 424.75,556.1 438.50,556.3 452.25,556.5 466.00,556.1 479.75,556.1 493.50,556.9 507.25,540.0 521.00,525.0 534.75,527.8 548.50,532.0 562.25,553.0 576.00,556.9 589.75,555.9 603.50,556.9 617.25,556.8 631.00,556.9 644.75,555.8 658.50,556.3 672.25,557.0 686.00,556.0 699.75,555.9 713.50,556.6 727.25,555.9 741.00,556.4 754.75,555.8 768.50,556.9 782.25,556.0 796.00,555.8 809.75,556.6" fill="none" stroke="#ff9000" stroke-width="1.1" stroke-linejoin="round" stroke-linecap="butt"/><polyline points="204.75,557.1 218.50,557.0 232.25,557.6 246.00,557.0 259.75,556.8 273.50,556.3 287.25,557.0 301.00,556.7 314.75,557.1 328.50,557.2 342.25,556.9 356.00,556.4 369.75,557.0 383.50,557.0 397.25,557.2 411.00,557.7 424.75,556.7 438.50,556.9 452.25,556.4 466.00,557.4 479.75,556.6 493.50,557.5 507.25,557.4 521.00,556.7 534.75,557.6 548.50,557.0 562.25,556.9 576.00,557.1 589.75,527.0 603.50,463.4 617.25,551.0 631.00,556.7 644.75,557.5 658.50,557.0 672.25,556.8 686.00,556.6 699.75,556.6 713.50,557.5 727.25,557.4 741.00,557.7 754.75,557.6 768.50,557.3 782.25,557.4 796.00,557.3 809.75,557.4" fill="none" stroke="#ff5020" stroke-width="1.1" stroke-linejoin="round" stroke-linecap="butt"/><polyline points="204.75,557.6 218.50,558.5 232.25,557.8 246.00,557.7 259.75,558.6 273.50,557.4 287.25,558.1 301.00,557.8 314.75,558.5 328.50,558.2 342.25,558.6 356.00,558.6 369.75,558.2 383.50,557.4 397.25,558.3 411.00,557.5 424.75,558.7 438.50,558.6 452.25,557.8 466.00,557.6 479.75,558.3 493.50,558.4 507.25,558.7 521.00,558.2 534.75,557.5 548.50,558.4 562.25,557.4 576.00,558.6 589.75,558.4 603.50,539.0 617.25,466.4 631.00,458.0 644.75,554.0 658.50,558.2 672.25,558.0 686.00,557.9 699.75,557.8 713.50,557.4 727.25,557.6 741.00,558.5 754.75,557.7 768.50,558.3 782.25,558.4 796.00,558.3 809.75,558.1" fill="none" stroke="#00e040" stroke-width="1.1" stroke-linejoin="round" stroke-linecap="butt"/><polyline points="204.75,556.6 218.50,556.5 232.25,557.1 246.00,557.2 259.75,557.5 273.50,556.7 287.25,557.5 301.00,557.5 314.75,556.6 328.50,557.6 342.25,557.1 356.00,557.6 369.75,557.3 383.50,556.7 397.25,556.6 411.00,557.0 424.75,556.9 438.50,556.3 452.25,557.4 466.00,557.0 479.75,556.9 493.50,557.3 507.25,556.6 521.00,556.5 534.75,557.0 548.50,556.6 562.25,556.7 576.00,556.3 589.75,540.0 603.50,503.0 617.25,540.0 631.00,557.6 644.75,557.1 658.50,556.8 672.25,556.8 686.00,556.6 699.75,556.9 713.50,557.6 727.25,556.4 741.00,556.8 754.75,557.2 768.50,557.3 782.25,557.0 796.00,557.1 809.75,557.5" fill="none" stroke="#00e070" stroke-width="1.1" stroke-linejoin="round" stroke-linecap="butt"/><polyline points="204.75,557.9 218.50,558.3 232.25,559.0 246.00,558.3 259.75,557.8 273.50,558.6 287.25,557.7 301.00,557.8 314.75,558.3 328.50,558.0 342.25,558.6 356.00,558.6 369.75,558.0 383.50,558.6 397.25,558.5 411.00,558.6 424.75,558.2 438.50,558.2 452.25,557.7 466.00,558.2 479.75,558.9 493.50,558.8 507.25,557.7 521.00,557.7 534.75,558.0 548.50,558.5 562.25,558.2 576.00,557.8 589.75,548.0 603.50,530.0 617.25,545.0 631.00,558.1 644.75,558.5 658.50,558.5 672.25,558.4 686.00,557.6 699.75,558.6 713.50,557.8 727.25,557.7 741.00,558.2 754.75,557.6 768.50,557.7 782.25,558.1 796.00,558.2 809.75,557.7" fill="none" stroke="#ffc000" stroke-width="1.1" stroke-linejoin="round" stroke-linecap="butt"/><polyline points="204.75,558.9 218.50,558.4 232.25,558.5 246.00,558.1 259.75,559.1 273.50,557.9 287.25,558.1 301.00,558.0 314.75,558.9 328.50,558.4 342.25,558.3 356.00,558.3 369.75,558.9 383.50,558.1 397.25,558.8 411.00,558.7 424.75,558.3 438.50,558.2 452.25,558.3 466.00,558.3 479.75,558.1 493.50,558.6 507.25,558.3 521.00,558.1 534.75,558.8 548.50,558.3 562.25,558.4 576.00,558.9 589.75,558.3 603.50,558.2 617.25,559.0 631.00,559.1 644.75,558.8 658.50,557.0 672.25,477.5 686.00,474.5 699.75,486.5 713.50,557.0 727.25,559.0 741.00,558.6 754.75,558.6 768.50,558.3 782.25,558.6 796.00,558.0 809.75,558.8" fill="none" stroke="#cc2020" stroke-width="1.1" stroke-linejoin="round" stroke-linecap="butt"/><polyline points="204.75,558.1 218.50,557.2 232.25,557.7 246.00,556.8 259.75,557.3 273.50,557.8 287.25,557.1 301.00,557.6 314.75,557.0 328.50,557.3 342.25,558.1 356.00,557.0 369.75,558.0 383.50,556.8 397.25,557.6 411.00,557.9 424.75,557.9 438.50,557.3 452.25,557.6 466.00,557.7 479.75,557.8 493.50,557.8 507.25,557.6 521.00,557.1 534.75,557.7 548.50,557.5 562.25,557.5 576.00,558.1 589.75,556.9 603.50,557.8 617.25,557.2 631.00,548.0 644.75,498.5 658.50,496.4 672.25,557.0 686.00,557.5 699.75,557.4 713.50,557.0 727.25,557.6 741.00,558.0 754.75,557.7 768.50,557.1 782.25,557.9 796.00,557.3 809.75,556.9" fill="none" stroke="#ff9000" stroke-width="1.1" stroke-linejoin="round" stroke-linecap="butt"/><polyline points="204.75,557.5 218.50,557.6 232.25,558.3 246.00,557.7 259.75,558.2 273.50,557.4 287.25,558.0 301.00,557.0 314.75,557.3 328.50,557.9 342.25,557.9 356.00,558.1 369.75,557.4 383.50,557.3 397.25,557.4 411.00,557.6 424.75,556.9 438.50,557.4 452.25,557.8 466.00,557.1 479.75,557.3 493.50,558.1 507.25,558.2 521.00,557.2 534.75,557.1 548.50,557.1 562.25,557.0 576.00,558.0 589.75,557.9 603.50,557.3 617.25,557.6 631.00,557.9 644.75,550.0 658.50,499.4 672.25,516.5 686.00,542.0 699.75,550.0 713.50,557.9 727.25,557.4 741.00,558.1 754.75,557.2 768.50,557.6 782.25,557.3 796.00,557.5 809.75,558.0" fill="none" stroke="#00c0ff" stroke-width="1.1" stroke-linejoin="round" stroke-linecap="butt"/><polyline points="204.75,557.7 218.50,558.2 232.25,557.1 246.00,557.1 259.75,557.7 273.50,557.0 287.25,558.2 301.00,557.3 314.75,557.4 328.50,557.4 342.25,558.0 356.00,558.1 369.75,557.8 383.50,557.1 397.25,557.3 411.00,557.8 424.75,557.1 438.50,558.0 452.25,558.0 466.00,557.1 479.75,557.3 493.50,557.1 507.25,557.8 521.00,556.9 534.75,557.8 548.50,556.9 562.25,558.0 576.00,557.6 589.75,557.6 603.50,556.9 617.25,556.9 631.00,557.3 644.75,558.2 658.50,554.0 672.25,496.4 686.00,530.0 699.75,557.0 713.50,556.8 727.25,557.8 741.00,557.1 754.75,557.2 768.50,557.7 782.25,557.8 796.00,557.3 809.75,557.5" fill="none" stroke="#00e040" stroke-width="1.1" stroke-linejoin="round" stroke-linecap="butt"/><polyline points="204.75,557.0 218.50,556.7 232.25,556.7 246.00,556.5 259.75,556.6 273.50,556.5 287.25,556.2 301.00,556.6 314.75,557.0 328.50,556.5 342.25,556.3 356.00,557.3 369.75,556.8 383.50,556.9 397.25,556.6 411.00,557.4 424.75,557.2 438.50,557.0 452.25,557.1 466.00,557.1 479.75,556.9 493.50,556.7 507.25,556.7 521.00,556.9 534.75,556.8 548.50,556.9 562.25,556.9 576.00,557.3 589.75,557.4 603.50,556.5 617.25,556.2 631.00,556.6 644.75,556.2 658.50,557.3 672.25,557.0 686.00,556.6 699.75,539.0 713.50,539.0 727.25,530.0 741.00,554.0 754.75,557.1 768.50,557.2 782.25,556.8 796.00,556.7 809.75,556.9" fill="none" stroke="#00c0ff" stroke-width="1.1" stroke-linejoin="round" stroke-linecap="butt"/><polyline points="204.75,558.9 218.50,558.8 232.25,558.7 246.00,557.6 259.75,557.9 273.50,558.9 287.25,558.3 301.00,558.2 314.75,558.0 328.50,558.7 342.25,558.2 356.00,558.9 369.75,557.6 383.50,558.9 397.25,557.5 411.00,557.7 424.75,558.1 438.50,558.4 452.25,557.7 466.00,558.3 479.75,558.8 493.50,558.1 507.25,558.6 521.00,558.4 534.75,558.3 548.50,557.8 562.25,558.2 576.00,558.8 589.75,558.5 603.50,557.8 617.25,548.0 631.00,540.0 644.75,550.0 658.50,558.3 672.25,558.4 686.00,557.6 699.75,557.8 713.50,558.4 727.25,557.8 741.00,557.6 754.75,558.6 768.50,558.0 782.25,558.9 796.00,558.3 809.75,557.7" fill="none" stroke="#00e0a0" stroke-width="1.1" stroke-linejoin="round" stroke-linecap="butt"/><polyline points="204.75,557.3 218.50,558.1 232.25,558.0 246.00,558.0 259.75,557.0 273.50,557.0 287.25,558.1 301.00,557.2 314.75,557.2 328.50,557.0 342.25,557.2 356.00,557.6 369.75,558.3 383.50,557.4 397.25,557.3 411.00,558.1 424.75,557.2 438.50,557.9 452.25,557.8 466.00,558.3 479.75,557.0 493.50,557.8 507.25,557.5 521.00,558.1 534.75,557.3 548.50,558.0 562.25,557.2 576.00,557.7 589.75,558.3 603.50,557.3 617.25,557.4 631.00,558.2 644.75,557.9 658.50,557.1 672.25,557.2 686.00,557.3 699.75,557.4 713.50,558.1 727.25,557.9 741.00,558.3 754.75,557.0 768.50,532.4 782.25,557.0 796.00,558.0 809.75,557.7" fill="none" stroke="#0060ff" stroke-width="1.1" stroke-linejoin="round" stroke-linecap="butt"/><polyline points="204.75,556.3 218.50,556.2 232.25,556.4 246.00,555.7 259.75,555.7 273.50,557.0 287.25,556.2 301.00,556.1 314.75,555.8 328.50,556.5 342.25,556.9 356.00,555.9 369.75,556.3 383.50,556.3 397.25,556.7 411.00,556.4 424.75,556.0 438.50,555.9 452.25,556.6 466.00,555.7 479.75,556.8 493.50,555.7 507.25,555.9 521.00,556.3 534.75,556.8 548.50,556.5 562.25,556.7 576.00,556.7 589.75,556.6 603.50,555.7 617.25,556.8 631.00,555.8 644.75,555.9 658.50,555.7 672.25,555.7 686.00,556.9 699.75,556.2 713.50,555.8 727.25,555.7 741.00,556.8 754.75,556.5 768.50,556.9 782.25,557.0 796.00,541.0 809.75,520.0" fill="none" stroke="#0030ff" stroke-width="1.1" stroke-linejoin="round" stroke-linecap="butt"/><polyline points="204.75,556.1 218.50,556.2 232.25,556.8 246.00,556.2 259.75,556.2 273.50,556.7 287.25,556.5 301.00,556.1 314.75,556.7 328.50,556.7 342.25,556.5 356.00,556.6 369.75,556.0 383.50,556.8 397.25,556.2 411.00,556.4 424.75,556.0 438.50,557.2 452.25,556.8 466.00,556.5 479.75,556.7 493.50,557.3 507.25,556.1 521.00,556.5 534.75,556.9 548.50,556.5 562.25,556.9 576.00,557.2 589.75,556.0 603.50,556.3 617.25,556.3 631.00,557.0 644.75,557.0 658.50,556.9 672.25,557.2 686.00,556.2 699.75,540.0 713.50,544.0 727.25,556.0 741.00,556.1 754.75,557.3 768.50,557.0 782.25,557.2 796.00,556.4 809.75,556.8" fill="none" stroke="#0060ff" stroke-width="1.1" stroke-linejoin="round" stroke-linecap="butt"/><polyline points="204.75,559.0 218.50,558.5 232.25,559.0 246.00,559.1 259.75,558.9 273.50,558.6 287.25,559.0 301.00,557.9 314.75,558.3 328.50,558.5 342.25,557.9 356.00,558.8 369.75,557.8 383.50,558.6 397.25,558.1 411.00,558.2 424.75,558.6 438.50,558.0 452.25,558.3 466.00,558.9 479.75,559.1 493.50,558.1 507.25,558.2 521.00,558.7 534.75,558.0 548.50,558.9 562.25,558.0 576.00,558.5 589.75,558.2 603.50,557.7 617.25,557.7 631.00,557.7 644.75,558.2 658.50,558.1 672.25,559.1 686.00,558.6 699.75,557.8 713.50,558.7 727.25,558.0 741.00,558.4 754.75,558.7 768.50,557.0 782.25,552.9 796.00,557.0 809.75,558.1" fill="none" stroke="#00c0ff" stroke-width="1.1" stroke-linejoin="round" stroke-linecap="butt"/><polyline points="204.75,556.9 218.50,557.5 232.25,557.1 246.00,557.4 259.75,556.6 273.50,557.5 287.25,557.8 301.00,556.7 314.75,557.3 328.50,556.6 342.25,556.5 356.00,557.0 369.75,556.7 383.50,557.4 397.25,557.2 411.00,557.4 424.75,557.8 438.50,556.5 452.25,556.6 466.00,556.5 479.75,557.1 493.50,557.6 507.25,557.4 521.00,557.2 534.75,557.6 548.50,556.9 562.25,556.6 576.00,557.3 589.75,556.5 603.50,556.7 617.25,556.5 631.00,556.6 644.75,556.5 658.50,557.2 672.25,556.6 686.00,557.3 699.75,557.6 713.50,556.9 727.25,556.6 741.00,557.4 754.75,557.4 768.50,557.7 782.25,557.0 796.00,553.0 809.75,551.3" fill="none" stroke="#ffe000" stroke-width="1.1" stroke-linejoin="round" stroke-linecap="butt"/><polyline points="204.75,558.4 218.50,557.5 232.25,558.1 246.00,557.9 259.75,557.7 273.50,557.1 287.25,557.7 301.00,557.4 314.75,557.9 328.50,557.8 342.25,557.8 356.00,557.1 369.75,557.2 383.50,557.9 397.25,558.0 411.00,558.4 424.75,558.2 438.50,557.5 452.25,557.7 466.00,557.8 479.75,558.2 493.50,557.6 507.25,558.3 521.00,557.7 534.75,557.6 548.50,557.7 562.25,557.6 576.00,558.5 589.75,557.1 603.50,557.6 617.25,557.2 631.00,558.0 644.75,557.3 658.50,557.3 672.25,557.7 686.00,557.9 699.75,558.1 713.50,557.7 727.25,557.5 741.00,557.6 754.75,558.3 768.50,557.4 782.25,556.0 796.00,553.0 809.75,549.0" fill="none" stroke="#00e070" stroke-width="1.1" stroke-linejoin="round" stroke-linecap="butt"/><polyline points="204.75,272.1 218.50,263.7 232.25,265.4 246.00,266.8 259.75,268.3 273.50,247.6 287.25,229.4 301.00,227.5 314.75,231.5 328.50,241.4 342.25,239.6 356.00,254.9 369.75,261.2 383.50,278.5 397.25,285.2 411.00,271.1 424.75,269.3 438.50,267.0 452.25,276.6 466.00,273.6 479.75,257.6 493.50,269.4 507.25,259.1 521.00,300.0 534.75,373.9 548.50,386.5 562.25,394.8 576.00,394.0 589.75,396.5 603.50,399.8 617.25,394.0 631.00,396.5 644.75,406.4 658.50,424.5 672.25,440.0 686.00,445.0 699.75,447.0 713.50,446.0 727.25,445.0 741.00,443.0 754.75,440.0 768.50,445.0 782.25,453.9 796.00,456.8 809.75,458.2" fill="none" stroke="#0030ff" stroke-width="1.1" stroke-linejoin="round" stroke-linecap="butt"/><polyline points="204.75,266.9 218.50,256.8 232.25,264.8 246.00,261.4 259.75,260.2 273.50,253.9 287.25,233.4 301.00,216.3 314.75,235.8 328.50,236.9 342.25,248.1 356.00,250.7 369.75,273.9 383.50,280.7 397.25,290.2 411.00,287.5 424.75,271.1 438.50,268.5 452.25,262.3 466.00,259.4 479.75,255.0 493.50,259.1 507.25,269.9 521.00,280.0 534.75,287.4 548.50,292.3 562.25,296.4 576.00,286.1 589.75,286.1 603.50,279.7 617.25,286.1 631.00,281.3 644.75,281.3 658.50,280.5 672.25,291.0 686.00,277.3 699.75,271.6 713.50,277.2 727.25,282.1 741.00,284.0 754.75,280.1 768.50,293.7 782.25,298.5 796.00,307.2 809.75,315.0" fill="none" stroke="#0060ff" stroke-width="1.1" stroke-linejoin="round" stroke-linecap="butt"/><polyline points="204.75,265.2 218.50,252.6 232.25,253.0 246.00,259.1 259.75,253.6 273.50,243.0 287.25,218.7 301.00,209.2 314.75,212.0 328.50,232.1 342.25,227.0 356.00,246.3 369.75,255.3 383.50,245.0 397.25,273.8 411.00,259.8 424.75,257.2 438.50,248.0 452.25,244.0 466.00,240.0 479.75,255.8 493.50,234.0 507.25,252.6 521.00,300.0 534.75,350.0 548.50,375.0 562.25,387.4 576.00,401.4 589.75,414.6 603.50,427.8 617.25,436.8 631.00,441.0 644.75,445.9 658.50,451.7 672.25,464.0 686.00,451.7 699.75,437.0 713.50,430.0 727.25,425.0 741.00,420.0 754.75,410.0 768.50,400.0 782.25,395.0 796.00,390.0 809.75,385.0" fill="none" stroke="#0090ff" stroke-width="1.1" stroke-linejoin="round" stroke-linecap="butt"/><polyline points="204.75,278.0 218.50,263.5 232.25,264.2 246.00,269.1 259.75,271.6 273.50,251.3 287.25,236.5 301.00,232.3 314.75,240.5 328.50,236.2 342.25,258.0 356.00,255.8 369.75,290.0 383.50,354.0 397.25,383.0 411.00,359.7 424.75,343.3 438.50,329.6 452.25,315.8 466.00,302.0 479.75,282.0 493.50,288.0 507.25,297.0 521.00,337.0 534.75,344.0 548.50,343.0 562.25,339.0 576.00,346.6 589.75,345.6 603.50,352.9 617.25,360.0 631.00,358.0 644.75,361.0 658.50,363.0 672.25,370.0 686.00,380.0 699.75,390.0 713.50,400.0 727.25,405.0 741.00,410.0 754.75,420.0 768.50,425.0 782.25,430.0 796.00,428.0 809.75,425.0" fill="none" stroke="#00c0ff" stroke-width="1.1" stroke-linejoin="round" stroke-linecap="butt"/><polyline points="204.75,267.4 218.50,261.3 232.25,257.2 246.00,264.6 259.75,259.5 273.50,246.7 287.25,222.7 301.00,208.3 314.75,217.3 328.50,228.2 342.25,242.5 356.00,257.2 369.75,250.6 383.50,254.8 397.25,285.4 411.00,273.8 424.75,264.4 438.50,258.3 452.25,263.2 466.00,266.3 479.75,255.1 493.50,252.2 507.25,246.7 521.00,277.0 534.75,285.0 548.50,287.5 562.25,290.0 576.00,287.5 589.75,285.0 603.50,286.5 617.25,288.0 631.00,290.0 644.75,284.0 658.50,291.6 672.25,301.3 686.00,338.0 699.75,371.0 713.50,394.0 727.25,410.0 741.00,420.0 754.75,430.0 768.50,440.0 782.25,445.0 796.00,447.0 809.75,445.0" fill="none" stroke="#00e0e0" stroke-width="1.1" stroke-linejoin="round" stroke-linecap="butt"/><polyline points="204.75,264.4 218.50,257.0 232.25,252.0 246.00,258.7 259.75,259.3 273.50,245.8 287.25,223.2 301.00,201.0 314.75,216.2 328.50,223.5 342.25,238.0 356.00,240.5 369.75,247.6 383.50,270.4 397.25,276.0 411.00,274.1 424.75,255.2 438.50,254.7 452.25,256.7 466.00,247.8 479.75,239.6 493.50,240.5 507.25,238.0 521.00,250.2 534.75,266.0 548.50,268.0 562.25,270.0 576.00,281.3 589.75,266.8 603.50,261.1 617.25,276.5 631.00,276.5 644.75,284.5 658.50,284.5 672.25,284.5 686.00,270.0 699.75,255.0 713.50,269.5 727.25,282.1 741.00,288.8 754.75,280.1 768.50,270.5 782.25,258.9 796.00,255.0 809.75,250.1" fill="none" stroke="#00e0a0" stroke-width="1.1" stroke-linejoin="round" stroke-linecap="butt"/><polyline points="204.75,278.0 218.50,266.8 232.25,266.0 246.00,268.0 259.75,264.6 273.50,252.7 287.25,237.7 301.00,234.0 314.75,234.6 328.50,246.1 342.25,257.4 356.00,267.4 369.75,278.3 383.50,290.1 397.25,289.1 411.00,293.1 424.75,281.3 438.50,280.0 452.25,283.2 466.00,283.2 479.75,271.6 493.50,280.0 507.25,282.3 521.00,291.9 534.75,270.0 548.50,271.0 562.25,272.0 576.00,275.0 589.75,276.5 603.50,284.5 617.25,263.5 631.00,270.0 644.75,278.1 658.50,278.1 672.25,281.3 686.00,282.9 699.75,286.1 713.50,290.0 727.25,300.0 741.00,302.4 754.75,286.0 768.50,276.3 782.25,271.4 796.00,272.4 809.75,269.5" fill="none" stroke="#00e070" stroke-width="1.1" stroke-linejoin="round" stroke-linecap="butt"/><polyline points="204.75,264.5 218.50,252.0 232.25,256.1 246.00,256.0 259.75,257.5 273.50,245.7 287.25,223.0 301.00,203.6 314.75,218.9 328.50,229.6 342.25,237.3 356.00,240.8 369.75,255.5 383.50,265.6 397.25,272.1 411.00,273.4 424.75,266.5 438.50,254.7 452.25,251.6 466.00,240.0 479.75,253.0 493.50,253.6 507.25,245.6 521.00,258.0 534.75,257.7 548.50,256.0 562.25,255.2 576.00,256.3 589.75,253.1 603.50,266.8 617.25,281.3 631.00,287.7 644.75,291.0 658.50,296.0 672.25,300.0 686.00,298.0 699.75,295.0 713.50,283.0 727.25,294.6 741.00,281.1 754.75,240.5 768.50,230.8 782.25,226.9 796.00,219.2 809.75,211.4" fill="none" stroke="#00e040" stroke-width="1.1" stroke-linejoin="round" stroke-linecap="butt"/><polyline points="204.75,272.9 218.50,264.0 232.25,260.0 246.00,268.3 259.75,265.5 273.50,252.6 287.25,229.9 301.00,223.7 314.75,234.6 328.50,239.4 342.25,250.3 356.00,249.6 369.75,261.4 383.50,278.3 397.25,287.4 411.00,300.0 424.75,314.5 438.50,315.0 452.25,315.8 466.00,330.0 479.75,346.0 493.50,337.0 507.25,329.6 521.00,335.0 534.75,347.7 548.50,340.3 562.25,330.9 576.00,324.6 589.75,369.7 603.50,382.3 617.25,427.8 631.00,451.7 644.75,449.2 658.50,429.4 672.25,407.2 686.00,395.0 699.75,385.0 713.50,380.0 727.25,378.0 741.00,376.0 754.75,374.0 768.50,375.0 782.25,372.0 796.00,368.0 809.75,365.0" fill="none" stroke="#00e010" stroke-width="1.1" stroke-linejoin="round" stroke-linecap="butt"/><polyline points="204.75,266.9 218.50,257.4 232.25,253.3 246.00,258.7 259.75,254.2 273.50,243.3 287.25,218.1 301.00,207.8 314.75,216.3 328.50,226.8 342.25,229.3 356.00,246.5 369.75,251.7 383.50,266.6 397.25,275.9 411.00,263.6 424.75,272.2 438.50,250.1 452.25,255.3 466.00,249.2 479.75,249.4 493.50,239.8 507.25,300.0 521.00,350.0 534.75,395.0 548.50,414.3 562.25,435.2 576.00,437.7 589.75,439.0 603.50,440.1 617.25,444.3 631.00,440.1 644.75,399.8 658.50,391.5 672.25,390.7 686.00,385.0 699.75,380.0 713.50,378.0 727.25,375.0 741.00,372.0 754.75,370.0 768.50,368.0 782.25,366.0 796.00,362.0 809.75,360.0" fill="none" stroke="#30e000" stroke-width="1.1" stroke-linejoin="round" stroke-linecap="butt"/><polyline points="204.75,271.4 218.50,259.5 232.25,265.1 246.00,263.1 259.75,267.4 273.50,251.8 287.25,233.4 301.00,232.7 314.75,238.0 328.50,239.1 342.25,254.7 356.00,262.8 369.75,269.0 383.50,276.7 397.25,289.3 411.00,287.0 424.75,290.4 438.50,284.8 452.25,276.3 466.00,270.9 479.75,279.1 493.50,252.0 507.25,243.7 521.00,237.1 534.75,236.3 548.50,239.6 562.25,243.7 576.00,241.8 589.75,242.3 603.50,240.2 617.25,253.1 631.00,259.5 644.75,266.0 658.50,274.0 672.25,268.0 686.00,254.7 699.75,257.9 713.50,255.0 727.25,241.4 741.00,220.0 754.75,212.4 768.50,224.0 782.25,228.9 796.00,230.8 809.75,230.4" fill="none" stroke="#ffff00" stroke-width="1.1" stroke-linejoin="round" stroke-linecap="butt"/><polyline points="204.75,262.5 218.50,254.4 232.25,255.5 246.00,253.5 259.75,255.2 273.50,247.5 287.25,217.3 301.00,204.7 314.75,212.4 328.50,224.5 342.25,239.4 356.00,241.0 369.75,257.8 383.50,266.5 397.25,269.9 411.00,257.3 424.75,266.8 438.50,254.0 452.25,248.8 466.00,242.9 479.75,256.4 493.50,241.6 507.25,240.3 521.00,251.8 534.75,268.0 548.50,269.0 562.25,270.0 576.00,270.0 589.75,268.0 603.50,262.0 617.25,265.0 631.00,262.0 644.75,262.0 658.50,262.0 672.25,260.0 686.00,262.0 699.75,265.0 713.50,267.6 727.25,265.6 741.00,270.5 754.75,266.6 768.50,263.7 782.25,271.4 796.00,267.6 809.75,249.2" fill="none" stroke="#ffe000" stroke-width="1.1" stroke-linejoin="round" stroke-linecap="butt"/><polyline points="204.75,265.8 218.50,254.8 232.25,254.2 246.00,260.3 259.75,259.3 273.50,242.0 287.25,221.5 301.00,204.9 314.75,225.6 328.50,231.8 342.25,230.5 356.00,241.8 369.75,243.8 383.50,273.8 397.25,267.3 411.00,268.7 424.75,258.7 438.50,260.3 452.25,256.6 466.00,257.1 479.75,238.3 493.50,253.0 507.25,245.1 521.00,258.1 534.75,275.0 548.50,282.5 562.25,290.0 576.00,300.0 589.75,311.0 603.50,342.4 617.25,378.0 631.00,374.0 644.75,360.0 658.50,350.0 672.25,340.0 686.00,330.0 699.75,325.0 713.50,320.0 727.25,312.0 741.00,305.0 754.75,299.5 768.50,296.6 782.25,289.8 796.00,286.9 809.75,279.2" fill="none" stroke="#ffc000" stroke-width="1.1" stroke-linejoin="round" stroke-linecap="butt"/><polyline points="204.75,265.6 218.50,257.9 232.25,258.2 246.00,259.2 259.75,261.7 273.50,248.9 287.25,219.0 301.00,209.4 314.75,222.9 328.50,236.7 342.25,245.4 356.00,249.9 369.75,285.0 383.50,312.0 397.25,317.0 411.00,301.0 424.75,297.0 438.50,300.0 452.25,300.0 466.00,295.6 479.75,282.4 493.50,275.0 507.25,287.5 521.00,300.0 534.75,330.0 548.50,348.7 562.25,378.0 576.00,372.8 589.75,382.3 603.50,394.8 617.25,382.3 631.00,372.8 644.75,368.6 658.50,367.6 672.25,369.7 686.00,378.4 699.75,387.1 713.50,395.8 727.25,400.2 741.00,404.5 754.75,410.3 768.50,408.9 782.25,407.4 796.00,407.4 809.75,408.9" fill="none" stroke="#ffa000" stroke-width="1.1" stroke-linejoin="round" stroke-linecap="butt"/><polyline points="204.75,265.8 218.50,253.5 232.25,255.4 246.00,258.3 259.75,255.5 273.50,244.4 287.25,224.5 301.00,204.3 314.75,215.2 328.50,230.9 342.25,227.3 356.00,240.1 369.75,255.3 383.50,245.0 397.25,275.1 411.00,267.3 424.75,254.1 438.50,250.1 452.25,257.2 466.00,257.5 479.75,236.0 493.50,241.8 507.25,247.6 521.00,260.0 534.75,261.0 548.50,261.0 562.25,261.0 576.00,257.9 589.75,244.2 603.50,252.3 617.25,254.7 631.00,258.7 644.75,266.0 658.50,276.5 672.25,277.3 686.00,263.5 699.75,262.7 713.50,252.0 727.25,240.5 741.00,244.3 754.75,239.5 768.50,251.1 782.25,256.0 796.00,250.1 809.75,253.0" fill="none" stroke="#ff9000" stroke-width="1.1" stroke-linejoin="round" stroke-linecap="butt"/><polyline points="204.75,267.1 218.50,256.7 232.25,261.2 246.00,265.7 259.75,256.7 273.50,247.8 287.25,231.2 301.00,221.9 314.75,229.2 328.50,229.2 342.25,246.3 356.00,260.6 369.75,271.9 383.50,278.2 397.25,272.9 411.00,283.8 424.75,265.2 438.50,297.8 452.25,292.5 466.00,304.0 479.75,294.8 493.50,274.8 507.25,275.6 521.00,276.8 534.75,278.0 548.50,278.0 562.25,278.0 576.00,277.3 589.75,273.2 603.50,266.8 617.25,281.3 631.00,284.5 644.75,287.7 658.50,294.2 672.25,310.3 686.00,318.0 699.75,320.0 713.50,325.0 727.25,330.0 741.00,335.0 754.75,340.0 768.50,345.0 782.25,350.0 796.00,345.0 809.75,340.0" fill="none" stroke="#ff8000" stroke-width="1.1" stroke-linejoin="round" stroke-linecap="butt"/><polyline points="204.75,274.6 218.50,263.2 232.25,259.1 246.00,262.5 259.75,268.7 273.50,248.8 287.25,231.1 301.00,219.0 314.75,225.0 328.50,238.4 342.25,239.0 356.00,249.9 369.75,264.5 383.50,268.3 397.25,277.2 411.00,282.7 424.75,280.9 438.50,278.5 452.25,262.4 466.00,267.0 479.75,262.4 493.50,266.1 507.25,268.3 521.00,275.0 534.75,277.5 548.50,280.0 562.25,282.5 576.00,285.0 589.75,282.5 603.50,280.0 617.25,282.5 631.00,285.0 644.75,290.0 658.50,297.0 672.25,305.0 686.00,340.0 699.75,373.0 713.50,385.0 727.25,395.0 741.00,407.4 754.75,398.7 768.50,381.3 782.25,377.0 796.00,369.7 809.75,374.0" fill="none" stroke="#ff6000" stroke-width="1.1" stroke-linejoin="round" stroke-linecap="butt"/><polyline points="204.75,272.9 218.50,261.0 232.25,267.0 246.00,265.3 259.75,270.1 273.50,253.7 287.25,238.0 301.00,228.4 314.75,237.3 328.50,239.0 342.25,253.0 356.00,258.8 369.75,278.6 383.50,285.1 397.25,285.2 411.00,283.9 424.75,281.7 438.50,283.3 452.25,271.3 466.00,282.2 479.75,277.4 493.50,264.0 507.25,281.2 521.00,262.0 534.75,261.0 548.50,261.0 562.25,261.0 576.00,263.5 589.75,264.4 603.50,260.3 617.25,266.8 631.00,271.6 644.75,274.0 658.50,266.8 672.25,266.8 686.00,254.7 699.75,258.7 713.50,264.7 727.25,272.4 741.00,256.9 754.75,248.2 768.50,244.3 782.25,240.5 796.00,229.8 809.75,216.3" fill="none" stroke="#ff5020" stroke-width="1.1" stroke-linejoin="round" stroke-linecap="butt"/><polyline points="204.75,262.8 218.50,255.7 232.25,253.4 246.00,260.7 259.75,255.0 273.50,244.0 287.25,224.4 301.00,201.0 314.75,221.8 328.50,223.5 342.25,228.3 356.00,250.8 369.75,254.4 383.50,249.5 397.25,262.9 411.00,275.8 424.75,262.2 438.50,263.0 452.25,245.5 466.00,253.3 479.75,243.3 493.50,238.2 507.25,244.8 521.00,300.0 534.75,320.0 548.50,338.0 562.25,355.0 576.00,367.6 589.75,386.5 603.50,378.0 617.25,361.3 631.00,342.4 644.75,325.6 658.50,320.0 672.25,322.0 686.00,318.0 699.75,317.0 713.50,317.4 727.25,340.0 741.00,414.4 754.75,449.5 768.50,451.0 782.25,451.0 796.00,456.8 809.75,452.4" fill="none" stroke="#ee3020" stroke-width="1.1" stroke-linejoin="round" stroke-linecap="butt"/><polyline points="204.75,268.1 218.50,259.9 232.25,258.8 246.00,267.6 259.75,265.0 273.50,252.8 287.25,212.0 301.00,193.0 314.75,210.0 328.50,237.5 342.25,246.5 356.00,259.3 369.75,264.0 383.50,267.7 397.25,275.8 411.00,275.0 424.75,264.8 438.50,277.9 452.25,268.5 466.00,273.2 479.75,253.2 493.50,262.6 507.25,276.1 521.00,279.2 534.75,280.0 548.50,290.0 562.25,300.0 576.00,307.5 589.75,315.0 603.50,315.0 617.25,315.0 631.00,310.3 644.75,305.5 658.50,291.0 672.25,268.4 686.00,262.0 699.75,262.7 713.50,262.7 727.25,271.4 741.00,278.2 754.75,309.2 768.50,343.6 782.25,349.4 796.00,348.0 809.75,358.0" fill="none" stroke="#cc2020" stroke-width="1.1" stroke-linejoin="round" stroke-linecap="butt"/><polyline points="204.75,267.3 218.50,255.5 232.25,256.7 246.00,258.5 259.75,259.0 273.50,248.3 287.25,230.8 301.00,209.8 314.75,221.8 328.50,231.0 342.25,236.0 356.00,248.1 369.75,255.0 383.50,271.5 397.25,270.6 411.00,283.5 424.75,266.5 438.50,274.1 452.25,267.6 466.00,265.6 479.75,258.7 493.50,266.9 507.25,251.5 521.00,352.9 534.75,373.9 548.50,387.5 562.25,398.9 576.00,403.1 589.75,401.4 603.50,407.2 617.25,424.5 631.00,427.0 644.75,426.1 658.50,427.8 672.25,429.4 686.00,435.5 699.75,437.0 713.50,437.0 727.25,437.0 741.00,432.2 754.75,425.8 768.50,420.0 782.25,415.0 796.00,420.0 809.75,418.0" fill="none" stroke="#0060ff" stroke-width="1.1" stroke-linejoin="round" stroke-linecap="butt"/><polyline points="204.75,268.3 218.50,263.2 232.25,264.2 246.00,261.6 259.75,260.8 273.50,248.1 287.25,227.6 301.00,214.0 314.75,228.9 328.50,243.0 342.25,244.5 356.00,253.3 369.75,266.7 383.50,275.3 397.25,288.1 411.00,285.7 424.75,269.6 438.50,267.5 452.25,273.3 466.00,278.9 479.75,269.6 493.50,263.3 507.25,279.7 521.00,264.8 534.75,275.0 548.50,271.5 562.25,268.0 576.00,269.0 589.75,270.0 603.50,272.5 617.25,275.0 631.00,281.4 644.75,287.7 658.50,295.5 672.25,309.0 686.00,336.0 699.75,365.0 713.50,388.4 727.25,395.0 741.00,398.0 754.75,400.0 768.50,395.0 782.25,393.0 796.00,390.0 809.75,387.0" fill="none" stroke="#0090ff" stroke-width="1.1" stroke-linejoin="round" stroke-linecap="butt"/><polyline points="204.75,266.2 218.50,253.9 232.25,252.0 246.00,257.4 259.75,260.1 273.50,245.2 287.25,214.0 301.00,198.0 314.75,212.0 328.50,232.1 342.25,233.0 356.00,250.0 369.75,280.0 383.50,316.0 397.25,349.0 411.00,336.0 424.75,332.0 438.50,306.0 452.25,314.5 466.00,311.7 479.75,309.0 493.50,311.7 507.25,320.0 521.00,337.8 534.75,359.7 548.50,357.0 562.25,369.7 576.00,380.2 589.75,373.9 603.50,365.5 617.25,363.4 631.00,359.2 644.75,361.3 658.50,363.4 672.25,380.0 686.00,381.0 699.75,372.0 713.50,387.0 727.25,385.0 741.00,384.0 754.75,378.0 768.50,393.0 782.25,396.0 796.00,399.0 809.75,387.0" fill="none" stroke="#00c0ff" stroke-width="1.1" stroke-linejoin="round" stroke-linecap="butt"/><polyline points="204.75,263.2 218.50,251.5 232.25,254.3 246.00,253.5 259.75,251.9 273.50,244.3 287.25,217.4 301.00,201.0 314.75,212.0 328.50,232.8 342.25,227.9 356.00,243.9 369.75,247.1 383.50,257.2 397.25,262.0 411.00,260.2 424.75,248.0 438.50,256.3 452.25,261.5 466.00,251.4 479.75,255.0 493.50,236.3 507.25,238.0 521.00,300.0 534.75,343.5 548.50,342.4 562.25,335.0 576.00,328.8 589.75,326.7 603.50,335.0 617.25,350.8 631.00,365.0 644.75,370.0 658.50,365.0 672.25,350.0 686.00,335.0 699.75,330.0 713.50,320.0 727.25,310.0 741.00,300.0 754.75,280.1 768.50,248.2 782.25,231.8 796.00,209.5 809.75,223.0" fill="none" stroke="#00e0ff" stroke-width="1.1" stroke-linejoin="round" stroke-linecap="butt"/><polyline points="204.75,268.4 218.50,260.6 232.25,259.9 246.00,264.4 259.75,264.7 273.50,252.8 287.25,226.2 301.00,217.1 314.75,232.3 328.50,232.1 342.25,237.7 356.00,250.6 369.75,255.1 383.50,280.2 397.25,286.9 411.00,275.1 424.75,264.4 438.50,260.7 452.25,261.6 466.00,255.4 479.75,245.4 493.50,232.2 507.25,236.3 521.00,241.2 534.75,246.2 548.50,249.5 562.25,254.4 576.00,249.8 589.75,246.6 603.50,261.9 617.25,271.6 631.00,273.2 644.75,265.2 658.50,257.1 672.25,260.3 686.00,247.4 699.75,243.4 713.50,247.2 727.25,241.4 741.00,220.2 754.75,215.3 768.50,213.4 782.25,211.4 796.00,209.5 809.75,206.6" fill="none" stroke="#00e0a0" stroke-width="1.1" stroke-linejoin="round" stroke-linecap="butt"/><polyline points="204.75,267.9 218.50,256.7 232.25,255.9 246.00,263.6 259.75,255.4 273.50,246.8 287.25,223.9 301.00,213.4 314.75,219.5 328.50,232.5 342.25,238.4 356.00,255.1 369.75,262.0 383.50,279.7 397.25,282.7 411.00,280.7 424.75,271.4 438.50,264.8 452.25,269.9 466.00,265.2 479.75,269.1 493.50,262.6 507.25,266.2 521.00,262.7 534.75,280.0 548.50,282.5 562.25,285.0 576.00,286.5 589.75,288.0 603.50,289.0 617.25,290.0 631.00,291.3 644.75,292.6 658.50,299.0 672.25,302.3 686.00,300.6 699.75,310.3 713.50,309.2 727.25,306.3 741.00,302.4 754.75,300.0 768.50,290.0 782.25,285.0 796.00,280.0 809.75,275.0" fill="none" stroke="#00e070" stroke-width="1.1" stroke-linejoin="round" stroke-linecap="butt"/><polyline points="204.75,271.2 218.50,260.1 232.25,260.5 246.00,263.6 259.75,263.8 273.50,253.7 287.25,230.2 301.00,217.0 314.75,236.8 328.50,240.4 342.25,242.4 356.00,252.3 369.75,235.0 383.50,241.4 397.25,247.7 411.00,253.0 424.75,257.8 438.50,257.8 452.25,262.0 466.00,265.0 479.75,272.5 493.50,273.8 507.25,275.0 521.00,280.0 534.75,285.0 548.50,287.5 562.25,290.0 576.00,292.1 589.75,294.2 603.50,300.6 617.25,316.8 631.00,303.9 644.75,294.2 658.50,286.1 672.25,290.0 686.00,300.0 699.75,310.0 713.50,305.0 727.25,300.0 741.00,295.0 754.75,286.0 768.50,272.4 782.25,259.8 796.00,299.5 809.75,315.0" fill="none" stroke="#00e040" stroke-width="1.1" stroke-linejoin="round" stroke-linecap="butt"/><polyline points="204.75,264.4 218.50,258.2 232.25,259.9 246.00,258.8 259.75,252.8 273.50,245.3 287.25,219.5 301.00,206.0 314.75,212.0 328.50,229.7 342.25,239.9 356.00,248.4 369.75,242.7 383.50,260.4 397.25,265.1 411.00,271.2 424.75,258.3 438.50,266.4 452.25,261.1 466.00,242.4 479.75,243.8 493.50,257.3 507.25,249.5 521.00,255.7 534.75,280.0 548.50,290.0 562.25,300.0 576.00,310.0 589.75,320.0 603.50,330.0 617.25,340.0 631.00,350.0 644.75,360.0 658.50,370.0 672.25,380.0 686.00,390.0 699.75,400.0 713.50,421.0 727.25,445.0 741.00,464.6 754.75,466.2 768.50,453.3 782.25,454.9 796.00,453.3 809.75,453.3" fill="none" stroke="#00e010" stroke-width="1.1" stroke-linejoin="round" stroke-linecap="butt"/><polyline points="204.75,269.9 218.50,262.7 232.25,260.1 246.00,266.6 259.75,261.7 273.50,246.2 287.25,230.3 301.00,214.4 314.75,219.1 328.50,239.3 342.25,234.2 356.00,252.4 369.75,260.8 383.50,279.8 397.25,278.2 411.00,269.9 424.75,264.7 438.50,260.4 452.25,265.6 466.00,258.6 479.75,265.4 493.50,251.1 507.25,258.0 521.00,290.0 534.75,320.0 548.50,340.0 562.25,355.0 576.00,357.0 589.75,337.2 603.50,343.5 617.25,347.7 631.00,347.7 644.75,355.0 658.50,365.0 672.25,375.0 686.00,380.0 699.75,385.0 713.50,390.0 727.25,404.7 741.00,417.7 754.75,427.4 768.50,438.7 782.25,442.0 796.00,437.0 809.75,433.8" fill="none" stroke="#e0e000" stroke-width="1.1" stroke-linejoin="round" stroke-linecap="butt"/><polyline points="204.75,269.3 218.50,259.4 232.25,260.5 246.00,260.4 259.75,256.5 273.50,244.3 287.25,227.7 301.00,211.2 314.75,214.8 328.50,227.0 342.25,230.9 356.00,250.6 369.75,263.9 383.50,255.4 397.25,280.9 411.00,266.4 424.75,267.9 438.50,268.2 452.25,261.0 466.00,240.0 479.75,237.0 493.50,229.4 507.25,238.5 521.00,290.0 534.75,328.8 548.50,324.6 562.25,320.4 576.00,315.0 589.75,311.0 603.50,302.6 617.25,295.0 631.00,300.0 644.75,310.0 658.50,320.0 672.25,292.6 686.00,290.2 699.75,303.9 713.50,300.0 727.25,292.0 741.00,282.0 754.75,255.0 768.50,245.3 782.25,232.7 796.00,242.4 809.75,252.1" fill="none" stroke="#ffff00" stroke-width="1.1" stroke-linejoin="round" stroke-linecap="butt"/></g>
<polyline points="204.75,558.3 218.50,558.3 232.25,558.3 246.00,558.3 259.75,558.3 273.50,558.3 287.25,558.3 301.00,558.3 314.75,537.0 328.50,517.0 342.25,493.5 356.00,524.5 369.75,539.0 383.50,552.0 397.25,555.0 411.00,556.0 424.75,553.0 438.50,549.0 452.25,550.0 466.00,550.0 479.75,551.6 493.50,538.2 507.25,526.3 521.00,541.2 534.75,554.6 548.50,557.0 562.25,557.5 576.00,557.0 589.75,555.5 603.50,551.6 617.25,555.0 631.00,553.4 644.75,557.0 658.50,555.0 672.25,552.5 686.00,553.0 699.75,556.0 713.50,559.5 727.25,559.5 741.00,559.5 754.75,559.5 768.50,559.5 782.25,559.5 796.00,559.5 809.75,559.5" fill="none" stroke="#ffffff" stroke-width="2.5" stroke-linejoin="round" stroke-linecap="butt"/>
<polyline points="204.75,560.3 218.50,560.3 232.25,560.3 246.00,560.3 259.75,560.3 273.50,560.3 287.25,560.3 301.00,557.0 314.75,463.5 328.50,434.5 342.25,412.5 356.00,429.5 369.75,557.0 383.50,560.3 397.25,560.3 411.00,560.3 424.75,560.3 438.50,560.3 452.25,560.3 466.00,542.7 479.75,553.0 493.50,559.0 507.25,544.2 521.00,551.6 534.75,560.3 548.50,560.3 562.25,560.3 576.00,560.3 589.75,560.3 603.50,560.3 617.25,560.3 631.00,560.3 644.75,560.3 658.50,560.3 672.25,560.3 686.00,560.3 699.75,560.3 713.50,560.3 727.25,560.3 741.00,560.3 754.75,560.3 768.50,560.3 782.25,560.3 796.00,560.3 809.75,560.3" fill="none" stroke="#10d010" stroke-width="2.7" stroke-linejoin="round" stroke-linecap="butt"/>
<polyline points="204.75,266.0 218.50,259.0 232.25,261.0 246.00,262.0 259.75,263.0 273.50,253.0 287.25,235.0 301.00,218.5 314.75,229.0 328.50,235.5 342.25,243.0 356.00,252.4 369.75,264.0 383.50,277.8 397.25,284.5 411.00,281.0 424.75,275.6 438.50,271.4 452.25,269.7 466.00,267.6 479.75,265.5 493.50,261.9 507.25,268.5 521.00,280.0 534.75,292.5 548.50,305.0 562.25,316.0 576.00,318.5 589.75,319.5 603.50,326.0 617.25,332.6 631.00,335.3 644.75,332.6 658.50,332.6 672.25,334.5 686.00,336.4 699.75,340.0 713.50,343.0 727.25,347.9 741.00,347.9 754.75,343.6 768.50,345.0 782.25,345.0 796.00,344.6 809.75,344.3" fill="none" stroke="#ffffff" stroke-width="2.6" stroke-linejoin="round" stroke-linecap="butt"/>
<polyline points="204.75,298.2 218.50,303.0 232.25,310.0 246.00,307.2 259.75,299.4 273.50,300.8 287.25,298.2 301.00,300.1 314.75,298.2 328.50,298.7 342.25,299.2 356.00,298.2 369.75,294.7 383.50,299.5 397.25,300.0 411.00,298.4 424.75,295.3 438.50,300.0 452.25,305.4 466.00,304.2 479.75,303.5 493.50,303.5 507.25,305.4 521.00,303.5 534.75,302.4 548.50,306.4 562.25,310.3 576.00,308.5 589.75,306.0 603.50,306.9 617.25,310.0 631.00,312.1 644.75,314.3 658.50,322.2 672.25,325.3 686.00,324.5 699.75,320.4 713.50,329.0 727.25,329.0 741.00,332.7 754.75,330.2 768.50,330.5 782.25,329.3 796.00,326.0 809.75,321.5" fill="none" stroke="#e03a3a" stroke-width="3.3" stroke-linejoin="round" stroke-linecap="butt"/>
<polyline points="204.75,264.0 218.50,257.0 232.25,259.0 246.00,261.0 259.75,262.0 273.50,251.0 287.25,233.0 301.00,218.0 314.75,228.0 328.50,234.0 342.25,241.8 356.00,248.1 369.75,254.5 383.50,279.9 397.25,295.8 411.00,285.2 424.75,275.6 438.50,270.4 452.25,270.4 466.00,265.0 479.75,257.6 493.50,256.5 507.25,257.5 521.00,267.0 534.75,294.6 548.50,298.8 562.25,300.5 576.00,290.5 589.75,293.0 603.50,298.5 617.25,332.0 631.00,336.4 644.75,376.8 658.50,428.5 672.25,436.0 686.00,423.0 699.75,415.0 713.50,375.5 727.25,376.9 741.00,358.1 754.75,351.8 768.50,338.7 782.25,327.5 796.00,316.0 809.75,298.5" fill="none" stroke="#10d010" stroke-width="2.7" stroke-linejoin="round" stroke-linecap="butt"/>
<path d="M163.5 30.5H810.5V560.5H163.5Z" fill="none" stroke="#d8d8d8" stroke-width="1.1"/>
<path d="M807.0 547.5H810.5M805.0 534.5H810.5M807.0 520.5H810.5M805.0 507.5H810.5M807.0 494.5H810.5M805.0 481.5H810.5M807.0 467.5H810.5M805.0 454.5H810.5M807.0 441.5H810.5M804.5 428.5H810.5M807.0 414.5H810.5M805.0 401.5H810.5M807.0 388.5H810.5M805.0 375.5H810.5M807.0 361.5H810.5M805.0 348.5H810.5M807.0 335.5H810.5M805.0 322.5H810.5M807.0 308.5H810.5M804.5 295.5H810.5M807.0 282.5H810.5M805.0 269.5H810.5M807.0 255.5H810.5M805.0 242.5H810.5M807.0 229.5H810.5M805.0 216.5H810.5M807.0 202.5H810.5M805.0 189.5H810.5M807.0 176.5H810.5M804.5 163.5H810.5M807.0 149.5H810.5M805.0 136.5H810.5M807.0 123.5H810.5M805.0 110.5H810.5M807.0 96.5H810.5M805.0 83.5H810.5M807.0 70.5H810.5M805.0 57.5H810.5M807.0 43.5H810.5" stroke="#d8d8d8" stroke-width="1"/>
<text x="136.6" y="16.5" font-size="15.2" textLength="66.2" lengthAdjust="spacingAndGlyphs" font-weight="bold">Miskolc</text>
<text x="214.5" y="16.5" font-size="15.2" textLength="41.3" lengthAdjust="spacingAndGlyphs" font-weight="bold">(HU)</text>
<text x="266.8" y="16.5" font-size="15.2" textLength="34.0" lengthAdjust="spacingAndGlyphs" font-weight="bold">850</text>
<text x="305.1" y="16.5" font-size="15.2" textLength="35.1" lengthAdjust="spacingAndGlyphs" font-weight="bold">hPa</text>
<text x="345.4" y="16.5" font-size="15.2" textLength="55.2" lengthAdjust="spacingAndGlyphs" font-weight="bold">Temp.</text>
<text x="404.4" y="16.5" font-size="15.2" textLength="14.6" lengthAdjust="spacingAndGlyphs" font-weight="bold">&amp;</text>
<text x="424.7" y="16.5" font-size="15.2" textLength="117.1" lengthAdjust="spacingAndGlyphs" font-weight="bold">Niederschlag</text>
<text x="548.2" y="16.5" font-size="15.2" textLength="4.6" lengthAdjust="spacingAndGlyphs" font-weight="bold">|</text>
<text x="558.6" y="16.5" font-size="15.2" textLength="29.2" lengthAdjust="spacingAndGlyphs" font-weight="bold">Fri,</text>
<text x="592.8" y="16.5" font-size="15.2" textLength="98.8" lengthAdjust="spacingAndGlyphs" font-weight="bold">05Feb2021</text>
<text x="696.6" y="16.5" font-size="15.2" textLength="36.2" lengthAdjust="spacingAndGlyphs" font-weight="bold">12Z</text>
<text x="154" y="33.0" font-size="10.4" text-anchor="end">25</text>
<text x="154" y="81.2" font-size="10.4" text-anchor="end">20</text>
<text x="154" y="129.4" font-size="10.4" text-anchor="end">15</text>
<text x="154" y="177.5" font-size="10.4" text-anchor="end">10</text>
<text x="154" y="225.7" font-size="10.4" text-anchor="end">5</text>
<text x="154" y="273.9" font-size="10.4" text-anchor="end">0</text>
<text x="154" y="322.1" font-size="10.4" text-anchor="end">-5</text>
<text x="154" y="370.3" font-size="10.4" text-anchor="end">-10</text>
<text x="154" y="418.5" font-size="10.4" text-anchor="end">-15</text>
<text x="154" y="466.6" font-size="10.4" text-anchor="end">-20</text>
<text x="154" y="514.8" font-size="10.4" text-anchor="end">-25</text>
<text x="154" y="563.0" font-size="10.4" text-anchor="end">-30</text>
<text x="817.5" y="563.5" font-size="10.4">0</text>
<text x="817.5" y="431.0" font-size="10.4">10</text>
<text x="817.5" y="297.5" font-size="10.4">20</text>
<text x="817.5" y="166.0" font-size="10.4">30</text>
<text x="817.5" y="33.5" font-size="10.4">40</text>
<text x="136.0" y="577.7" font-size="10.2" textLength="55" lengthAdjust="spacingAndGlyphs">05Feb 00z</text>
<text x="191.0" y="577.7" font-size="10.2" textLength="55" lengthAdjust="spacingAndGlyphs">06Feb 00z</text>
<text x="246.0" y="577.7" font-size="10.2" textLength="55" lengthAdjust="spacingAndGlyphs">07Feb 00z</text>
<text x="301.0" y="577.7" font-size="10.2" textLength="55" lengthAdjust="spacingAndGlyphs">08Feb 00z</text>
<text x="356.0" y="577.7" font-size="10.2" textLength="55" lengthAdjust="spacingAndGlyphs">09Feb 00z</text>
<text x="411.0" y="577.7" font-size="10.2" textLength="55" lengthAdjust="spacingAndGlyphs">10Feb 00z</text>
<text x="466.0" y="577.7" font-size="10.2" textLength="55" lengthAdjust="spacingAndGlyphs">11Feb 00z</text>
<text x="521.0" y="577.7" font-size="10.2" textLength="55" lengthAdjust="spacingAndGlyphs">12Feb 00z</text>
<text x="576.0" y="577.7" font-size="10.2" textLength="55" lengthAdjust="spacingAndGlyphs">13Feb 00z</text>
<text x="631.0" y="577.7" font-size="10.2" textLength="55" lengthAdjust="spacingAndGlyphs">14Feb 00z</text>
<text x="686.0" y="577.7" font-size="10.2" textLength="55" lengthAdjust="spacingAndGlyphs">15Feb 00z</text>
<text x="741.0" y="577.7" font-size="10.2" textLength="55" lengthAdjust="spacingAndGlyphs">16Feb 00z</text>
<text x="457.6" y="592.6" font-size="10.2" textLength="57" lengthAdjust="spacingAndGlyphs">Date (UTC)</text>
<text x="0" y="0" font-size="10.2" transform="translate(134.8,347.8) rotate(-90)" textLength="103" lengthAdjust="spacingAndGlyphs">850 hPa Temp. (°C)</text>
<text x="0" y="0" font-size="10.2" transform="translate(842,347) rotate(-90)" textLength="104" lengthAdjust="spacingAndGlyphs">Niederschlag (mm)</text>
<text x="120.9" y="603.8" font-size="16" textLength="196" lengthAdjust="spacingAndGlyphs">GFS Ensemble, 48N, 21E</text>
<text x="650.7" y="603.8" font-size="16" textLength="142" lengthAdjust="spacingAndGlyphs">Wetterzentrale.de</text>
<path d="M0 42H8" stroke="#4010ff" stroke-width="2"/>
<text x="8.3" y="44" font-size="10.4" textLength="37" lengthAdjust="spacingAndGlyphs">Control</text>
<path d="M53 42H64" stroke="#0030ff" stroke-width="2"/>
<text x="64.5" y="44" font-size="10.4">P1</text>
<path d="M0 57H8" stroke="#0060ff" stroke-width="2"/>
<text x="8.3" y="59" font-size="10.4">P2</text>
<path d="M53 57H64" stroke="#0090ff" stroke-width="2"/>
<text x="64.5" y="59" font-size="10.4">P3</text>
<path d="M0 72H8" stroke="#00c0ff" stroke-width="2"/>
<text x="8.3" y="74" font-size="10.4">P4</text>
<path d="M53 72H64" stroke="#00e0e0" stroke-width="2"/>
<text x="64.5" y="74" font-size="10.4">P5</text>
<path d="M0 87H8" stroke="#00e0a0" stroke-width="2"/>
<text x="8.3" y="89" font-size="10.4">P6</text>
<path d="M53 87H64" stroke="#00e070" stroke-width="2"/>
<text x="64.5" y="89" font-size="10.4">P7</text>
<path d="M0 102H8" stroke="#00e040" stroke-width="2"/>
<text x="8.3" y="104" font-size="10.4">P8</text>
<path d="M53 102H64" stroke="#00e010" stroke-width="2"/>
<text x="64.5" y="104" font-size="10.4">P9</text>
<path d="M0 117H8" stroke="#30e000" stroke-width="2"/>
<text x="8.3" y="119" font-size="10.4">P10</text>
<path d="M53 117H64" stroke="#ffff00" stroke-width="2"/>
<text x="64.5" y="119" font-size="10.4">P11</text>
<path d="M0 132H8" stroke="#ffe000" stroke-width="2"/>
<text x="8.3" y="134" font-size="10.4">P12</text>
<path d="M53 132H64" stroke="#ffc000" stroke-width="2"/>
<text x="64.5" y="134" font-size="10.4">P13</text>
<path d="M0 147H8" stroke="#ffa000" stroke-width="2"/>
<text x="8.3" y="149" font-size="10.4">P14</text>
<path d="M53 147H64" stroke="#ff9000" stroke-width="2"/>
<text x="64.5" y="149" font-size="10.4">P15</text>
<path d="M0 162H8" stroke="#ff8000" stroke-width="2"/>
<text x="8.3" y="164" font-size="10.4">P16</text>
<path d="M53 162H64" stroke="#ff6000" stroke-width="2"/>
<text x="64.5" y="164" font-size="10.4">P17</text>
<path d="M0 177H8" stroke="#ff5020" stroke-width="2"/>
<text x="8.3" y="179" font-size="10.4">P18</text>
<path d="M53 177H64" stroke="#ee3020" stroke-width="2"/>
<text x="64.5" y="179" font-size="10.4">P19</text>
<path d="M0 192H8" stroke="#cc2020" stroke-width="2"/>
<text x="8.3" y="194" font-size="10.4">P20</text>
<path d="M53 192H64" stroke="#0060ff" stroke-width="2"/>
<text x="64.5" y="194" font-size="10.4">P21</text>
<path d="M0 207H8" stroke="#0090ff" stroke-width="2"/>
<text x="8.3" y="209" font-size="10.4">P22</text>
<path d="M53 207H64" stroke="#00c0ff" stroke-width="2"/>
<text x="64.5" y="209" font-size="10.4">P23</text>
<path d="M0 222H8" stroke="#00e0ff" stroke-width="2"/>
<text x="8.3" y="224" font-size="10.4">P24</text>
<path d="M53 222H64" stroke="#00e0a0" stroke-width="2"/>
<text x="64.5" y="224" font-size="10.4">P25</text>
<path d="M0 237H8" stroke="#00e070" stroke-width="2"/>
<text x="8.3" y="239" font-size="10.4">P26</text>
<path d="M53 237H64" stroke="#00e040" stroke-width="2"/>
<text x="64.5" y="239" font-size="10.4">P27</text>
<path d="M0 252H8" stroke="#00e010" stroke-width="2"/>
<text x="8.3" y="254" font-size="10.4">P28</text>
<path d="M53 252H64" stroke="#20e000" stroke-width="2"/>
<text x="64.5" y="254" font-size="10.4">P29</text>
<path d="M0 267H8" stroke="#ffff00" stroke-width="2"/>
<text x="8.3" y="269" font-size="10.4">P30</text>
<path d="M53 267H64" stroke="#fff" stroke-width="2.5"/>
<text x="65" y="268.8" font-size="10.4" textLength="54" lengthAdjust="spacingAndGlyphs">Ens. mean</text>
<path d="M53 292.8H64" stroke="#f03c3c" stroke-width="2.5"/>
<text x="65" y="296.6" font-size="10.4" textLength="56.6" lengthAdjust="spacingAndGlyphs">1981-2010</text>
<text x="65" y="306.2" font-size="10.4" textLength="28.3" lengthAdjust="spacingAndGlyphs">mean</text>
<path d="M0 307H8" stroke="#10e010" stroke-width="2.5"/>
<text x="8.3" y="308.8" font-size="10.4" textLength="24.5" lengthAdjust="spacingAndGlyphs">Oper</text>
</svg></body></html>
